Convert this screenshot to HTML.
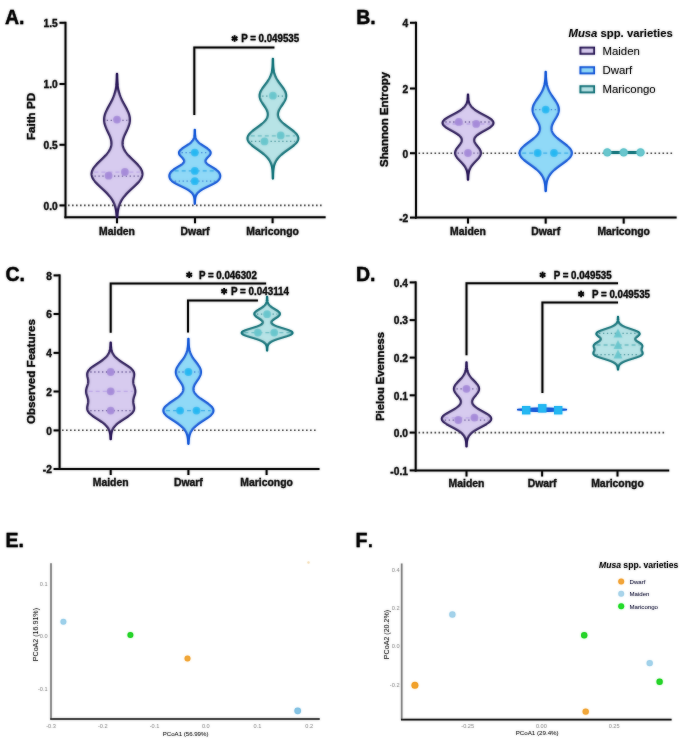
<!DOCTYPE html>
<html><head><meta charset="utf-8"><style>
html,body{margin:0;padding:0;background:#fff;}
body{width:685px;height:750px;position:relative;overflow:hidden;font-family:"Liberation Sans", sans-serif;}
</style></head><body>
<svg width="685" height="750" viewBox="0 0 685 750" style="position:absolute;left:0;top:0;will-change:transform">
<defs><filter id="bl" x="0" y="0" width="685" height="750" filterUnits="userSpaceOnUse"><feGaussianBlur stdDeviation="1.0"/></filter></defs>
<g id="content" font-family='"Liberation Sans", sans-serif'>
<text x="5.00" y="24.40" font-size="19.5" font-weight="bold" text-anchor="start" fill="#0a0a0a" stroke="#0a0a0a" stroke-width="0.3" >A.</text>
<line x1="65.5" y1="21.8" x2="65.5" y2="218.2" stroke="#111" stroke-width="2"/>
<line x1="64.5" y1="217.2" x2="325.6" y2="217.2" stroke="#111" stroke-width="2"/>
<line x1="59.5" y1="22.8" x2="65.5" y2="22.8" stroke="#111" stroke-width="2"/>
<text x="57.70" y="27.10" font-size="10.2" font-weight="bold" text-anchor="end" fill="#222" stroke="#222" stroke-width="0.3" >1.5</text>
<line x1="59.5" y1="84" x2="65.5" y2="84" stroke="#111" stroke-width="2"/>
<text x="57.70" y="88.30" font-size="10.2" font-weight="bold" text-anchor="end" fill="#222" stroke="#222" stroke-width="0.3" >1.0</text>
<line x1="59.5" y1="144.8" x2="65.5" y2="144.8" stroke="#111" stroke-width="2"/>
<text x="57.70" y="149.10" font-size="10.2" font-weight="bold" text-anchor="end" fill="#222" stroke="#222" stroke-width="0.3" >0.5</text>
<line x1="59.5" y1="205.4" x2="65.5" y2="205.4" stroke="#111" stroke-width="2"/>
<text x="57.70" y="209.70" font-size="10.2" font-weight="bold" text-anchor="end" fill="#222" stroke="#222" stroke-width="0.3" >0.0</text>
<line x1="117" y1="217.2" x2="117" y2="223.2" stroke="#111" stroke-width="2"/>
<text x="117.00" y="235.10" font-size="10.4" font-weight="bold" text-anchor="middle" fill="#222" stroke="#222" stroke-width="0.3" >Maiden</text>
<line x1="195" y1="217.2" x2="195" y2="223.2" stroke="#111" stroke-width="2"/>
<text x="195.00" y="235.10" font-size="10.4" font-weight="bold" text-anchor="middle" fill="#222" stroke="#222" stroke-width="0.3" >Dwarf</text>
<line x1="272.6" y1="217.2" x2="272.6" y2="223.2" stroke="#111" stroke-width="2"/>
<text x="272.60" y="235.10" font-size="10.4" font-weight="bold" text-anchor="middle" fill="#222" stroke="#222" stroke-width="0.3" >Maricongo</text>
<line x1="68" y1="205.4" x2="322" y2="205.4" stroke="#666" stroke-width="1.6" stroke-dasharray="1.6 2.4"/>
<text transform="translate(34.60,116.50) rotate(-90)" font-size="11.6" font-weight="bold" text-anchor="middle" fill="#1a1a1a" stroke="#1a1a1a" stroke-width="0.3">Faith PD</text>
<polygon points="117.06,73.90 117.07,74.40 117.08,74.90 117.09,75.40 117.10,75.90 117.11,76.40 117.12,76.90 117.14,77.40 117.15,77.90 117.17,78.40 117.19,78.90 117.21,79.40 117.23,79.90 117.25,80.40 117.28,80.90 117.31,81.40 117.34,81.90 117.37,82.40 117.41,82.90 117.45,83.40 117.49,83.90 117.54,84.40 117.59,84.90 117.65,85.40 117.70,85.90 117.77,86.40 117.83,86.90 117.91,87.40 117.98,87.90 118.07,88.40 118.15,88.90 118.25,89.40 118.34,89.90 118.45,90.40 118.56,90.90 118.68,91.40 118.80,91.90 118.93,92.40 119.07,92.90 119.22,93.40 119.37,93.90 119.53,94.40 119.69,94.90 119.87,95.40 120.05,95.90 120.23,96.40 120.43,96.90 120.63,97.40 120.84,97.90 121.06,98.40 121.28,98.90 121.51,99.40 121.74,99.90 121.98,100.40 122.23,100.90 122.48,101.40 122.74,101.90 123.00,102.40 123.27,102.90 123.53,103.40 123.81,103.90 124.08,104.40 124.35,104.90 124.63,105.40 124.91,105.90 125.18,106.40 125.46,106.90 125.73,107.40 126.00,107.90 126.27,108.40 126.53,108.90 126.79,109.40 127.04,109.90 127.29,110.40 127.52,110.90 127.75,111.40 127.97,111.90 128.18,112.40 128.38,112.90 128.57,113.40 128.75,113.90 128.92,114.40 129.07,114.90 129.21,115.40 129.33,115.90 129.44,116.40 129.54,116.90 129.62,117.40 129.68,117.90 129.73,118.40 129.76,118.90 129.78,119.40 129.78,119.90 129.76,120.40 129.73,120.90 129.68,121.40 129.62,121.90 129.54,122.40 129.45,122.90 129.34,123.40 129.22,123.90 129.09,124.40 128.94,124.90 128.78,125.40 128.61,125.90 128.43,126.40 128.24,126.90 128.04,127.40 127.83,127.90 127.62,128.40 127.39,128.90 127.17,129.40 126.94,129.90 126.70,130.40 126.46,130.90 126.22,131.40 125.98,131.90 125.74,132.40 125.50,132.90 125.27,133.40 125.04,133.90 124.81,134.40 124.58,134.90 124.37,135.40 124.16,135.90 123.96,136.40 123.77,136.90 123.59,137.40 123.42,137.90 123.26,138.40 123.11,138.90 122.98,139.40 122.86,139.90 122.75,140.40 122.67,140.90 122.59,141.40 122.54,141.90 122.50,142.40 122.47,142.90 122.47,143.40 122.48,143.90 122.52,144.40 122.57,144.90 122.64,145.40 122.74,145.90 122.85,146.40 122.98,146.90 123.13,147.40 123.31,147.90 123.50,148.40 123.72,148.90 123.95,149.40 124.20,149.90 124.48,150.40 124.77,150.90 125.09,151.40 125.42,151.90 125.77,152.40 126.14,152.90 126.52,153.40 126.92,153.90 127.34,154.40 127.77,154.90 128.22,155.40 128.68,155.90 129.15,156.40 129.63,156.90 130.12,157.40 130.63,157.90 131.13,158.40 131.65,158.90 132.16,159.40 132.69,159.90 133.21,160.40 133.73,160.90 134.25,161.40 134.77,161.90 135.28,162.40 135.79,162.90 136.29,163.40 136.78,163.90 137.25,164.40 137.72,164.90 138.17,165.40 138.60,165.90 139.02,166.40 139.41,166.90 139.79,167.40 140.15,167.90 140.48,168.40 140.78,168.90 141.07,169.40 141.32,169.90 141.55,170.40 141.74,170.90 141.91,171.40 142.05,171.90 142.16,172.40 142.24,172.90 142.29,173.40 142.30,173.90 142.28,174.40 142.24,174.90 142.16,175.40 142.04,175.90 141.90,176.40 141.73,176.90 141.53,177.40 141.30,177.90 141.04,178.40 140.76,178.90 140.45,179.40 140.11,179.90 139.75,180.40 139.37,180.90 138.97,181.40 138.55,181.90 138.11,182.40 137.65,182.90 137.18,183.40 136.69,183.90 136.19,184.40 135.68,184.90 135.16,185.40 134.64,185.90 134.10,186.40 133.57,186.90 133.03,187.40 132.48,187.90 131.94,188.40 131.40,188.90 130.86,189.40 130.32,189.90 129.79,190.40 129.27,190.90 128.75,191.40 128.24,191.90 127.73,192.40 127.24,192.90 126.76,193.40 126.29,193.90 125.83,194.40 125.38,194.90 124.95,195.40 124.53,195.90 124.12,196.40 123.72,196.90 123.34,197.40 122.98,197.90 122.63,198.40 122.29,198.90 121.96,199.40 121.65,199.90 121.36,200.40 121.07,200.90 120.81,201.40 120.55,201.90 120.31,202.40 120.08,202.90 119.86,203.40 119.65,203.90 119.46,204.40 119.28,204.90 119.11,205.40 118.95,205.90 118.79,206.40 118.65,206.90 118.52,207.40 118.40,207.90 118.28,208.40 118.18,208.90 118.08,209.40 117.98,209.90 117.90,210.40 117.82,210.90 117.75,211.40 117.68,211.90 117.62,212.40 117.56,212.90 117.51,213.40 117.46,213.90 117.42,214.40 117.38,214.90 117.34,215.40 117.30,215.90 117.27,216.40 117.25,216.90 116.75,216.90 116.73,216.40 116.70,215.90 116.66,215.40 116.62,214.90 116.58,214.40 116.54,213.90 116.49,213.40 116.44,212.90 116.38,212.40 116.32,211.90 116.25,211.40 116.18,210.90 116.10,210.40 116.02,209.90 115.92,209.40 115.82,208.90 115.72,208.40 115.60,207.90 115.48,207.40 115.35,206.90 115.21,206.40 115.05,205.90 114.89,205.40 114.72,204.90 114.54,204.40 114.35,203.90 114.14,203.40 113.92,202.90 113.69,202.40 113.45,201.90 113.19,201.40 112.93,200.90 112.64,200.40 112.35,199.90 112.04,199.40 111.71,198.90 111.37,198.40 111.02,197.90 110.66,197.40 110.28,196.90 109.88,196.40 109.47,195.90 109.05,195.40 108.62,194.90 108.17,194.40 107.71,193.90 107.24,193.40 106.76,192.90 106.27,192.40 105.76,191.90 105.25,191.40 104.73,190.90 104.21,190.40 103.68,189.90 103.14,189.40 102.60,188.90 102.06,188.40 101.52,187.90 100.97,187.40 100.43,186.90 99.90,186.40 99.36,185.90 98.84,185.40 98.32,184.90 97.81,184.40 97.31,183.90 96.82,183.40 96.35,182.90 95.89,182.40 95.45,181.90 95.03,181.40 94.63,180.90 94.25,180.40 93.89,179.90 93.55,179.40 93.24,178.90 92.96,178.40 92.70,177.90 92.47,177.40 92.27,176.90 92.10,176.40 91.96,175.90 91.84,175.40 91.76,174.90 91.72,174.40 91.70,173.90 91.71,173.40 91.76,172.90 91.84,172.40 91.95,171.90 92.09,171.40 92.26,170.90 92.45,170.40 92.68,169.90 92.93,169.40 93.22,168.90 93.52,168.40 93.85,167.90 94.21,167.40 94.59,166.90 94.98,166.40 95.40,165.90 95.83,165.40 96.28,164.90 96.75,164.40 97.22,163.90 97.71,163.40 98.21,162.90 98.72,162.40 99.23,161.90 99.75,161.40 100.27,160.90 100.79,160.40 101.31,159.90 101.84,159.40 102.35,158.90 102.87,158.40 103.37,157.90 103.88,157.40 104.37,156.90 104.85,156.40 105.32,155.90 105.78,155.40 106.23,154.90 106.66,154.40 107.08,153.90 107.48,153.40 107.86,152.90 108.23,152.40 108.58,151.90 108.91,151.40 109.23,150.90 109.52,150.40 109.80,149.90 110.05,149.40 110.28,148.90 110.50,148.40 110.69,147.90 110.87,147.40 111.02,146.90 111.15,146.40 111.26,145.90 111.36,145.40 111.43,144.90 111.48,144.40 111.52,143.90 111.53,143.40 111.53,142.90 111.50,142.40 111.46,141.90 111.41,141.40 111.33,140.90 111.25,140.40 111.14,139.90 111.02,139.40 110.89,138.90 110.74,138.40 110.58,137.90 110.41,137.40 110.23,136.90 110.04,136.40 109.84,135.90 109.63,135.40 109.42,134.90 109.19,134.40 108.96,133.90 108.73,133.40 108.50,132.90 108.26,132.40 108.02,131.90 107.78,131.40 107.54,130.90 107.30,130.40 107.06,129.90 106.83,129.40 106.61,128.90 106.38,128.40 106.17,127.90 105.96,127.40 105.76,126.90 105.57,126.40 105.39,125.90 105.22,125.40 105.06,124.90 104.91,124.40 104.78,123.90 104.66,123.40 104.55,122.90 104.46,122.40 104.38,121.90 104.32,121.40 104.27,120.90 104.24,120.40 104.22,119.90 104.22,119.40 104.24,118.90 104.27,118.40 104.32,117.90 104.38,117.40 104.46,116.90 104.56,116.40 104.67,115.90 104.79,115.40 104.93,114.90 105.08,114.40 105.25,113.90 105.43,113.40 105.62,112.90 105.82,112.40 106.03,111.90 106.25,111.40 106.48,110.90 106.71,110.40 106.96,109.90 107.21,109.40 107.47,108.90 107.73,108.40 108.00,107.90 108.27,107.40 108.54,106.90 108.82,106.40 109.09,105.90 109.37,105.40 109.65,104.90 109.92,104.40 110.19,103.90 110.47,103.40 110.73,102.90 111.00,102.40 111.26,101.90 111.52,101.40 111.77,100.90 112.02,100.40 112.26,99.90 112.49,99.40 112.72,98.90 112.94,98.40 113.16,97.90 113.37,97.40 113.57,96.90 113.77,96.40 113.95,95.90 114.13,95.40 114.31,94.90 114.47,94.40 114.63,93.90 114.78,93.40 114.93,92.90 115.07,92.40 115.20,91.90 115.32,91.40 115.44,90.90 115.55,90.40 115.66,89.90 115.75,89.40 115.85,88.90 115.93,88.40 116.02,87.90 116.09,87.40 116.17,86.90 116.23,86.40 116.30,85.90 116.35,85.40 116.41,84.90 116.46,84.40 116.51,83.90 116.55,83.40 116.59,82.90 116.63,82.40 116.66,81.90 116.69,81.40 116.72,80.90 116.75,80.40 116.77,79.90 116.79,79.40 116.81,78.90 116.83,78.40 116.85,77.90 116.86,77.40 116.88,76.90 116.89,76.40 116.90,75.90 116.91,75.40 116.92,74.90 116.93,74.40 116.94,73.90" fill="#d7cbef" stroke="#33215f" stroke-width="2.3" stroke-linejoin="round"/>
<line x1="106.74" y1="120.40" x2="127.26" y2="120.40" stroke="#4b3a7e" stroke-width="1.3" stroke-dasharray="1.3 2.6"/>
<line x1="94.38" y1="172.20" x2="139.62" y2="172.20" stroke="#b9a3e6" stroke-width="1.3" stroke-dasharray="4 3"/>
<line x1="94.54" y1="176.20" x2="139.46" y2="176.20" stroke="#4b3a7e" stroke-width="1.3" stroke-dasharray="1.3 2.6"/>
<circle cx="117.00" cy="119.60" r="3.9" fill="#a68bd9"/>
<circle cx="108.60" cy="175.70" r="3.9" fill="#a68bd9"/>
<circle cx="124.90" cy="172.00" r="3.9" fill="#a68bd9"/>
<polygon points="194.81,129.80 194.82,130.30 194.82,130.80 194.83,131.30 194.84,131.80 194.85,132.30 194.87,132.80 194.89,133.30 194.91,133.80 194.95,134.30 194.99,134.80 195.04,135.30 195.11,135.80 195.19,136.30 195.28,136.80 195.40,137.30 195.54,137.80 195.71,138.30 195.90,138.80 196.13,139.30 196.40,139.80 196.70,140.30 197.05,140.80 197.44,141.30 197.88,141.80 198.36,142.30 198.89,142.80 199.48,143.30 200.10,143.80 200.77,144.30 201.48,144.80 202.22,145.30 202.98,145.80 203.76,146.30 204.54,146.80 205.33,147.30 206.10,147.80 206.84,148.30 207.54,148.80 208.19,149.30 208.77,149.80 209.29,150.30 209.72,150.80 210.07,151.30 210.32,151.80 210.47,152.30 210.52,152.80 210.48,153.30 210.35,153.80 210.13,154.30 209.83,154.80 209.47,155.30 209.05,155.80 208.60,156.30 208.12,156.80 207.64,157.30 207.17,157.80 206.72,158.30 206.32,158.80 205.97,159.30 205.70,159.80 205.50,160.30 205.40,160.80 205.39,161.30 205.48,161.80 205.68,162.30 205.98,162.80 206.38,163.30 206.87,163.80 207.45,164.30 208.11,164.80 208.83,165.30 209.60,165.80 210.41,166.30 211.25,166.80 212.09,167.30 212.94,167.80 213.76,168.30 214.56,168.80 215.32,169.30 216.04,169.80 216.70,170.30 217.31,170.80 217.85,171.30 218.33,171.80 218.75,172.30 219.10,172.80 219.40,173.30 219.64,173.80 219.83,174.30 219.97,174.80 220.06,175.30 220.10,175.80 220.10,176.30 220.05,176.80 219.95,177.30 219.81,177.80 219.61,178.30 219.36,178.80 219.05,179.30 218.68,179.80 218.24,180.30 217.73,180.80 217.15,181.30 216.50,181.80 215.78,182.30 215.00,182.80 214.16,183.30 213.26,183.80 212.31,184.30 211.32,184.80 210.30,185.30 209.26,185.80 208.22,186.30 207.17,186.80 206.14,187.30 205.13,187.80 204.15,188.30 203.21,188.80 202.32,189.30 201.47,189.80 200.69,190.30 199.96,190.80 199.29,191.30 198.68,191.80 198.13,192.30 197.64,192.80 197.21,193.30 196.83,193.80 196.50,194.30 196.21,194.80 195.96,195.30 195.75,195.80 195.57,196.30 195.42,196.80 195.30,197.30 195.20,197.80 195.12,198.30 195.05,198.80 194.99,199.30 194.95,199.80 194.92,200.30 194.89,200.80 194.87,201.30 194.85,201.80 194.84,202.30 194.83,202.80 194.82,203.30 194.82,203.80 194.78,203.80 194.78,203.30 194.77,202.80 194.76,202.30 194.75,201.80 194.73,201.30 194.71,200.80 194.68,200.30 194.65,199.80 194.61,199.30 194.55,198.80 194.48,198.30 194.40,197.80 194.30,197.30 194.18,196.80 194.03,196.30 193.85,195.80 193.64,195.30 193.39,194.80 193.10,194.30 192.77,193.80 192.39,193.30 191.96,192.80 191.47,192.30 190.92,191.80 190.31,191.30 189.64,190.80 188.91,190.30 188.13,189.80 187.28,189.30 186.39,188.80 185.45,188.30 184.47,187.80 183.46,187.30 182.43,186.80 181.38,186.30 180.34,185.80 179.30,185.30 178.28,184.80 177.29,184.30 176.34,183.80 175.44,183.30 174.60,182.80 173.82,182.30 173.10,181.80 172.45,181.30 171.87,180.80 171.36,180.30 170.92,179.80 170.55,179.30 170.24,178.80 169.99,178.30 169.79,177.80 169.65,177.30 169.55,176.80 169.50,176.30 169.50,175.80 169.54,175.30 169.63,174.80 169.77,174.30 169.96,173.80 170.20,173.30 170.50,172.80 170.85,172.30 171.27,171.80 171.75,171.30 172.29,170.80 172.90,170.30 173.56,169.80 174.28,169.30 175.04,168.80 175.84,168.30 176.66,167.80 177.51,167.30 178.35,166.80 179.19,166.30 180.00,165.80 180.77,165.30 181.49,164.80 182.15,164.30 182.73,163.80 183.22,163.30 183.62,162.80 183.92,162.30 184.12,161.80 184.21,161.30 184.20,160.80 184.10,160.30 183.90,159.80 183.63,159.30 183.28,158.80 182.88,158.30 182.43,157.80 181.96,157.30 181.48,156.80 181.00,156.30 180.55,155.80 180.13,155.30 179.77,154.80 179.47,154.30 179.25,153.80 179.12,153.30 179.08,152.80 179.13,152.30 179.28,151.80 179.53,151.30 179.88,150.80 180.31,150.30 180.83,149.80 181.41,149.30 182.06,148.80 182.76,148.30 183.50,147.80 184.27,147.30 185.06,146.80 185.84,146.30 186.62,145.80 187.38,145.30 188.12,144.80 188.83,144.30 189.50,143.80 190.12,143.30 190.71,142.80 191.24,142.30 191.72,141.80 192.16,141.30 192.55,140.80 192.90,140.30 193.20,139.80 193.47,139.30 193.70,138.80 193.89,138.30 194.06,137.80 194.20,137.30 194.32,136.80 194.41,136.30 194.49,135.80 194.56,135.30 194.61,134.80 194.65,134.30 194.69,133.80 194.71,133.30 194.73,132.80 194.75,132.30 194.76,131.80 194.77,131.30 194.78,130.80 194.78,130.30 194.79,129.80" fill="#90d9f7" stroke="#1f5fd9" stroke-width="2.3" stroke-linejoin="round"/>
<line x1="181.60" y1="152.60" x2="208.00" y2="152.60" stroke="#2b6ccf" stroke-width="1.3" stroke-dasharray="1.3 2.6"/>
<line x1="174.69" y1="170.90" x2="214.91" y2="170.90" stroke="#2aa6e6" stroke-width="1.3" stroke-dasharray="4 3"/>
<line x1="174.83" y1="181.20" x2="214.77" y2="181.20" stroke="#2b6ccf" stroke-width="1.3" stroke-dasharray="1.3 2.6"/>
<circle cx="194.80" cy="152.60" r="3.9" fill="#25b8f2"/>
<circle cx="194.80" cy="170.90" r="3.9" fill="#25b8f2"/>
<circle cx="194.80" cy="181.20" r="3.9" fill="#25b8f2"/>
<polygon points="272.93,59.00 272.93,59.50 272.94,60.00 272.95,60.50 272.96,61.00 272.97,61.50 272.98,62.00 272.99,62.50 273.00,63.00 273.02,63.50 273.04,64.00 273.06,64.50 273.08,65.00 273.11,65.50 273.14,66.00 273.18,66.50 273.21,67.00 273.26,67.50 273.31,68.00 273.36,68.50 273.42,69.00 273.49,69.50 273.56,70.00 273.64,70.50 273.73,71.00 273.83,71.50 273.93,72.00 274.05,72.50 274.17,73.00 274.31,73.50 274.46,74.00 274.62,74.50 274.79,75.00 274.97,75.50 275.17,76.00 275.38,76.50 275.60,77.00 275.83,77.50 276.08,78.00 276.34,78.50 276.62,79.00 276.91,79.50 277.21,80.00 277.52,80.50 277.85,81.00 278.18,81.50 278.52,82.00 278.88,82.50 279.24,83.00 279.61,83.50 279.98,84.00 280.36,84.50 280.74,85.00 281.12,85.50 281.50,86.00 281.88,86.50 282.25,87.00 282.61,87.50 282.97,88.00 283.32,88.50 283.65,89.00 283.97,89.50 284.27,90.00 284.56,90.50 284.82,91.00 285.07,91.50 285.29,92.00 285.48,92.50 285.65,93.00 285.79,93.50 285.91,94.00 286.00,94.50 286.06,95.00 286.08,95.50 286.08,96.00 286.05,96.50 285.99,97.00 285.91,97.50 285.79,98.00 285.65,98.50 285.48,99.00 285.28,99.50 285.07,100.00 284.83,100.50 284.57,101.00 284.29,101.50 284.00,102.00 283.69,102.50 283.38,103.00 283.05,103.50 282.71,104.00 282.37,104.50 282.03,105.00 281.69,105.50 281.35,106.00 281.01,106.50 280.69,107.00 280.36,107.50 280.06,108.00 279.76,108.50 279.48,109.00 279.21,109.50 278.97,110.00 278.74,110.50 278.54,111.00 278.36,111.50 278.21,112.00 278.08,112.50 277.98,113.00 277.91,113.50 277.87,114.00 277.86,114.50 277.89,115.00 277.94,115.50 278.03,116.00 278.15,116.50 278.31,117.00 278.50,117.50 278.72,118.00 278.98,118.50 279.27,119.00 279.59,119.50 279.95,120.00 280.34,120.50 280.76,121.00 281.22,121.50 281.70,122.00 282.21,122.50 282.75,123.00 283.31,123.50 283.89,124.00 284.50,124.50 285.13,125.00 285.77,125.50 286.42,126.00 287.09,126.50 287.77,127.00 288.45,127.50 289.13,128.00 289.81,128.50 290.49,129.00 291.16,129.50 291.82,130.00 292.46,130.50 293.08,131.00 293.68,131.50 294.26,132.00 294.81,132.50 295.33,133.00 295.81,133.50 296.25,134.00 296.66,134.50 297.02,135.00 297.34,135.50 297.61,136.00 297.83,136.50 298.00,137.00 298.12,137.50 298.18,138.00 298.20,138.50 298.16,139.00 298.07,139.50 297.93,140.00 297.74,140.50 297.50,141.00 297.21,141.50 296.87,142.00 296.49,142.50 296.06,143.00 295.60,143.50 295.10,144.00 294.56,144.50 294.00,145.00 293.40,145.50 292.79,146.00 292.15,146.50 291.49,147.00 290.81,147.50 290.13,148.00 289.43,148.50 288.73,149.00 288.03,149.50 287.33,150.00 286.64,150.50 285.94,151.00 285.26,151.50 284.59,152.00 283.93,152.50 283.29,153.00 282.66,153.50 282.06,154.00 281.47,154.50 280.90,155.00 280.36,155.50 279.83,156.00 279.33,156.50 278.86,157.00 278.40,157.50 277.98,158.00 277.57,158.50 277.19,159.00 276.83,159.50 276.49,160.00 276.18,160.50 275.88,161.00 275.61,161.50 275.36,162.00 275.12,162.50 274.90,163.00 274.71,163.50 274.52,164.00 274.35,164.50 274.20,165.00 274.06,165.50 273.94,166.00 273.82,166.50 273.72,167.00 273.62,167.50 273.54,168.00 273.46,168.50 273.40,169.00 273.33,169.50 273.28,170.00 273.23,170.50 273.19,171.00 273.15,171.50 273.12,172.00 273.09,172.50 273.06,173.00 273.04,173.50 273.02,174.00 273.00,174.50 272.99,175.00 272.98,175.50 272.97,176.00 272.96,176.50 272.95,177.00 272.94,177.50 272.93,178.00 272.93,178.50 272.87,178.50 272.87,178.00 272.86,177.50 272.85,177.00 272.84,176.50 272.83,176.00 272.82,175.50 272.81,175.00 272.80,174.50 272.78,174.00 272.76,173.50 272.74,173.00 272.71,172.50 272.68,172.00 272.65,171.50 272.61,171.00 272.57,170.50 272.52,170.00 272.47,169.50 272.40,169.00 272.34,168.50 272.26,168.00 272.18,167.50 272.08,167.00 271.98,166.50 271.86,166.00 271.74,165.50 271.60,165.00 271.45,164.50 271.28,164.00 271.09,163.50 270.90,163.00 270.68,162.50 270.44,162.00 270.19,161.50 269.92,161.00 269.62,160.50 269.31,160.00 268.97,159.50 268.61,159.00 268.23,158.50 267.82,158.00 267.40,157.50 266.94,157.00 266.47,156.50 265.97,156.00 265.44,155.50 264.90,155.00 264.33,154.50 263.74,154.00 263.14,153.50 262.51,153.00 261.87,152.50 261.21,152.00 260.54,151.50 259.86,151.00 259.16,150.50 258.47,150.00 257.77,149.50 257.07,149.00 256.37,148.50 255.67,148.00 254.99,147.50 254.31,147.00 253.65,146.50 253.01,146.00 252.40,145.50 251.80,145.00 251.24,144.50 250.70,144.00 250.20,143.50 249.74,143.00 249.31,142.50 248.93,142.00 248.59,141.50 248.30,141.00 248.06,140.50 247.87,140.00 247.73,139.50 247.64,139.00 247.60,138.50 247.62,138.00 247.68,137.50 247.80,137.00 247.97,136.50 248.19,136.00 248.46,135.50 248.78,135.00 249.14,134.50 249.55,134.00 249.99,133.50 250.47,133.00 250.99,132.50 251.54,132.00 252.12,131.50 252.72,131.00 253.34,130.50 253.98,130.00 254.64,129.50 255.31,129.00 255.99,128.50 256.67,128.00 257.35,127.50 258.03,127.00 258.71,126.50 259.38,126.00 260.03,125.50 260.67,125.00 261.30,124.50 261.91,124.00 262.49,123.50 263.05,123.00 263.59,122.50 264.10,122.00 264.58,121.50 265.04,121.00 265.46,120.50 265.85,120.00 266.21,119.50 266.53,119.00 266.82,118.50 267.08,118.00 267.30,117.50 267.49,117.00 267.65,116.50 267.77,116.00 267.86,115.50 267.91,115.00 267.94,114.50 267.93,114.00 267.89,113.50 267.82,113.00 267.72,112.50 267.59,112.00 267.44,111.50 267.26,111.00 267.06,110.50 266.83,110.00 266.59,109.50 266.32,109.00 266.04,108.50 265.74,108.00 265.44,107.50 265.11,107.00 264.79,106.50 264.45,106.00 264.11,105.50 263.77,105.00 263.43,104.50 263.09,104.00 262.75,103.50 262.42,103.00 262.11,102.50 261.80,102.00 261.51,101.50 261.23,101.00 260.97,100.50 260.73,100.00 260.52,99.50 260.32,99.00 260.15,98.50 260.01,98.00 259.89,97.50 259.81,97.00 259.75,96.50 259.72,96.00 259.72,95.50 259.74,95.00 259.80,94.50 259.89,94.00 260.01,93.50 260.15,93.00 260.32,92.50 260.51,92.00 260.73,91.50 260.98,91.00 261.24,90.50 261.53,90.00 261.83,89.50 262.15,89.00 262.48,88.50 262.83,88.00 263.19,87.50 263.55,87.00 263.92,86.50 264.30,86.00 264.68,85.50 265.06,85.00 265.44,84.50 265.82,84.00 266.19,83.50 266.56,83.00 266.92,82.50 267.28,82.00 267.62,81.50 267.95,81.00 268.28,80.50 268.59,80.00 268.89,79.50 269.18,79.00 269.46,78.50 269.72,78.00 269.97,77.50 270.20,77.00 270.42,76.50 270.63,76.00 270.83,75.50 271.01,75.00 271.18,74.50 271.34,74.00 271.49,73.50 271.63,73.00 271.75,72.50 271.87,72.00 271.97,71.50 272.07,71.00 272.16,70.50 272.24,70.00 272.31,69.50 272.38,69.00 272.44,68.50 272.49,68.00 272.54,67.50 272.59,67.00 272.62,66.50 272.66,66.00 272.69,65.50 272.72,65.00 272.74,64.50 272.76,64.00 272.78,63.50 272.80,63.00 272.81,62.50 272.82,62.00 272.83,61.50 272.84,61.00 272.85,60.50 272.86,60.00 272.87,59.50 272.87,59.00" fill="#b7e3e6" stroke="#1d7a80" stroke-width="2.3" stroke-linejoin="round"/>
<line x1="262.23" y1="96.20" x2="283.57" y2="96.20" stroke="#2d8189" stroke-width="1.3" stroke-dasharray="1.3 2.6"/>
<line x1="250.80" y1="135.80" x2="295.00" y2="135.80" stroke="#5fb7bd" stroke-width="1.3" stroke-dasharray="4 3"/>
<line x1="251.04" y1="141.40" x2="294.76" y2="141.40" stroke="#2d8189" stroke-width="1.3" stroke-dasharray="1.3 2.6"/>
<circle cx="272.90" cy="95.70" r="3.9" fill="#69c6cd"/>
<circle cx="280.70" cy="135.40" r="3.9" fill="#69c6cd"/>
<circle cx="264.50" cy="141.40" r="3.9" fill="#69c6cd"/>
<polyline points="194.3,115 194.3,47.6 274.4,47.6" fill="none" stroke="#111" stroke-width="2"/>
<circle cx="234.60" cy="38.50" r="1.5" fill="#111"/>
<line x1="234.60" y1="35.30" x2="234.60" y2="41.70" stroke="#111" stroke-width="1.8" stroke-linecap="butt"/>
<line x1="231.83" y1="36.90" x2="237.37" y2="40.10" stroke="#111" stroke-width="1.8" stroke-linecap="butt"/>
<line x1="237.37" y1="36.90" x2="231.83" y2="40.10" stroke="#111" stroke-width="1.8" stroke-linecap="butt"/>
<text x="241.20" y="41.70" font-size="10.2" font-weight="bold" text-anchor="start" fill="#1a1a1a" stroke="#1a1a1a" stroke-width="0.3" textLength="58" lengthAdjust="spacingAndGlyphs">P = 0.049535</text>
<text x="356.20" y="24.20" font-size="19.5" font-weight="bold" text-anchor="start" fill="#0a0a0a" stroke="#0a0a0a" stroke-width="0.3" >B.</text>
<line x1="416" y1="21.8" x2="416" y2="218.6" stroke="#111" stroke-width="2"/>
<line x1="415" y1="217.6" x2="676.6" y2="217.6" stroke="#111" stroke-width="2"/>
<line x1="410" y1="22.8" x2="416" y2="22.8" stroke="#111" stroke-width="2"/>
<text x="408.20" y="27.10" font-size="10.2" font-weight="bold" text-anchor="end" fill="#222" stroke="#222" stroke-width="0.3" >4</text>
<line x1="410" y1="88.5" x2="416" y2="88.5" stroke="#111" stroke-width="2"/>
<text x="408.20" y="92.80" font-size="10.2" font-weight="bold" text-anchor="end" fill="#222" stroke="#222" stroke-width="0.3" >2</text>
<line x1="410" y1="153.2" x2="416" y2="153.2" stroke="#111" stroke-width="2"/>
<text x="408.20" y="157.50" font-size="10.2" font-weight="bold" text-anchor="end" fill="#222" stroke="#222" stroke-width="0.3" >0</text>
<line x1="410" y1="217.6" x2="416" y2="217.6" stroke="#111" stroke-width="2"/>
<text x="408.20" y="221.90" font-size="10.2" font-weight="bold" text-anchor="end" fill="#222" stroke="#222" stroke-width="0.3" >-2</text>
<line x1="468" y1="217.6" x2="468" y2="223.6" stroke="#111" stroke-width="2"/>
<text x="468.00" y="235.10" font-size="10.4" font-weight="bold" text-anchor="middle" fill="#222" stroke="#222" stroke-width="0.3" >Maiden</text>
<line x1="545.7" y1="217.6" x2="545.7" y2="223.6" stroke="#111" stroke-width="2"/>
<text x="545.70" y="235.10" font-size="10.4" font-weight="bold" text-anchor="middle" fill="#222" stroke="#222" stroke-width="0.3" >Dwarf</text>
<line x1="623.7" y1="217.6" x2="623.7" y2="223.6" stroke="#111" stroke-width="2"/>
<text x="623.70" y="235.10" font-size="10.4" font-weight="bold" text-anchor="middle" fill="#222" stroke="#222" stroke-width="0.3" >Maricongo</text>
<line x1="418.5" y1="153.2" x2="672.5" y2="153.2" stroke="#666" stroke-width="1.6" stroke-dasharray="1.6 2.4"/>
<text transform="translate(387.60,119.50) rotate(-90)" font-size="11.4" font-weight="bold" text-anchor="middle" fill="#1a1a1a" stroke="#1a1a1a" stroke-width="0.3">Shannon Entropy</text>
<polygon points="468.06,94.70 468.07,95.20 468.09,95.70 468.10,96.20 468.13,96.70 468.16,97.20 468.19,97.70 468.23,98.20 468.28,98.70 468.34,99.20 468.40,99.70 468.48,100.20 468.57,100.70 468.68,101.20 468.80,101.70 468.94,102.20 469.10,102.70 469.28,103.20 469.48,103.70 469.72,104.20 469.98,104.70 470.27,105.20 470.60,105.70 470.96,106.20 471.36,106.70 471.80,107.20 472.28,107.70 472.80,108.20 473.36,108.70 473.97,109.20 474.62,109.70 475.32,110.20 476.05,110.70 476.83,111.20 477.64,111.70 478.49,112.20 479.37,112.70 480.27,113.20 481.19,113.70 482.13,114.20 483.08,114.70 484.03,115.20 484.98,115.70 485.91,116.20 486.82,116.70 487.71,117.20 488.55,117.70 489.35,118.20 490.09,118.70 490.77,119.20 491.38,119.70 491.92,120.20 492.38,120.70 492.75,121.20 493.03,121.70 493.21,122.20 493.30,122.70 493.29,123.20 493.19,123.70 492.99,124.20 492.70,124.70 492.32,125.20 491.86,125.70 491.31,126.20 490.70,126.70 490.02,127.20 489.28,127.70 488.49,128.20 487.66,128.70 486.80,129.20 485.91,129.70 485.01,130.20 484.11,130.70 483.20,131.20 482.31,131.70 481.44,132.20 480.60,132.70 479.78,133.20 479.01,133.70 478.28,134.20 477.60,134.70 476.97,135.20 476.41,135.70 475.90,136.20 475.45,136.70 475.06,137.20 474.74,137.70 474.48,138.20 474.29,138.70 474.16,139.20 474.09,139.70 474.08,140.20 474.12,140.70 474.22,141.20 474.37,141.70 474.57,142.20 474.81,142.70 475.08,143.20 475.39,143.70 475.73,144.20 476.10,144.70 476.48,145.20 476.87,145.70 477.27,146.20 477.67,146.70 478.07,147.20 478.46,147.70 478.83,148.20 479.18,148.70 479.51,149.20 479.81,149.70 480.07,150.20 480.30,150.70 480.48,151.20 480.62,151.70 480.72,152.20 480.77,152.70 480.77,153.20 480.72,153.70 480.62,154.20 480.47,154.70 480.28,155.20 480.05,155.70 479.77,156.20 479.46,156.70 479.11,157.20 478.73,157.70 478.32,158.20 477.89,158.70 477.44,159.20 476.98,159.70 476.50,160.20 476.02,160.70 475.54,161.20 475.06,161.70 474.58,162.20 474.11,162.70 473.66,163.20 473.21,163.70 472.78,164.20 472.38,164.70 471.99,165.20 471.62,165.70 471.27,166.20 470.94,166.70 470.64,167.20 470.36,167.70 470.10,168.20 469.86,168.70 469.64,169.20 469.44,169.70 469.26,170.20 469.10,170.70 468.96,171.20 468.83,171.70 468.72,172.20 468.61,172.70 468.53,173.20 468.45,173.70 468.38,174.20 468.32,174.70 468.27,175.20 468.23,175.70 468.19,176.20 468.16,176.70 468.13,177.20 468.11,177.70 468.09,178.20 468.07,178.70 468.06,179.20 468.05,179.70 467.95,179.70 467.94,179.20 467.93,178.70 467.91,178.20 467.89,177.70 467.87,177.20 467.84,176.70 467.81,176.20 467.77,175.70 467.73,175.20 467.68,174.70 467.62,174.20 467.55,173.70 467.47,173.20 467.39,172.70 467.28,172.20 467.17,171.70 467.04,171.20 466.90,170.70 466.74,170.20 466.56,169.70 466.36,169.20 466.14,168.70 465.90,168.20 465.64,167.70 465.36,167.20 465.06,166.70 464.73,166.20 464.38,165.70 464.01,165.20 463.62,164.70 463.22,164.20 462.79,163.70 462.34,163.20 461.89,162.70 461.42,162.20 460.94,161.70 460.46,161.20 459.98,160.70 459.50,160.20 459.02,159.70 458.56,159.20 458.11,158.70 457.68,158.20 457.27,157.70 456.89,157.20 456.54,156.70 456.23,156.20 455.95,155.70 455.72,155.20 455.53,154.70 455.38,154.20 455.28,153.70 455.23,153.20 455.23,152.70 455.28,152.20 455.38,151.70 455.52,151.20 455.70,150.70 455.93,150.20 456.19,149.70 456.49,149.20 456.82,148.70 457.17,148.20 457.54,147.70 457.93,147.20 458.33,146.70 458.73,146.20 459.13,145.70 459.52,145.20 459.90,144.70 460.27,144.20 460.61,143.70 460.92,143.20 461.19,142.70 461.43,142.20 461.63,141.70 461.78,141.20 461.88,140.70 461.92,140.20 461.91,139.70 461.84,139.20 461.71,138.70 461.52,138.20 461.26,137.70 460.94,137.20 460.55,136.70 460.10,136.20 459.59,135.70 459.03,135.20 458.40,134.70 457.72,134.20 456.99,133.70 456.22,133.20 455.40,132.70 454.56,132.20 453.69,131.70 452.80,131.20 451.89,130.70 450.99,130.20 450.09,129.70 449.20,129.20 448.34,128.70 447.51,128.20 446.72,127.70 445.98,127.20 445.30,126.70 444.69,126.20 444.14,125.70 443.68,125.20 443.30,124.70 443.01,124.20 442.81,123.70 442.71,123.20 442.70,122.70 442.79,122.20 442.97,121.70 443.25,121.20 443.62,120.70 444.08,120.20 444.62,119.70 445.23,119.20 445.91,118.70 446.65,118.20 447.45,117.70 448.29,117.20 449.18,116.70 450.09,116.20 451.02,115.70 451.97,115.20 452.92,114.70 453.87,114.20 454.81,113.70 455.73,113.20 456.63,112.70 457.51,112.20 458.36,111.70 459.17,111.20 459.95,110.70 460.68,110.20 461.38,109.70 462.03,109.20 462.64,108.70 463.20,108.20 463.72,107.70 464.20,107.20 464.64,106.70 465.04,106.20 465.40,105.70 465.73,105.20 466.02,104.70 466.28,104.20 466.52,103.70 466.72,103.20 466.90,102.70 467.06,102.20 467.20,101.70 467.32,101.20 467.43,100.70 467.52,100.20 467.60,99.70 467.66,99.20 467.72,98.70 467.77,98.20 467.81,97.70 467.84,97.20 467.87,96.70 467.90,96.20 467.91,95.70 467.93,95.20 467.94,94.70" fill="#d7cbef" stroke="#33215f" stroke-width="2.3" stroke-linejoin="round"/>
<line x1="445.36" y1="122.00" x2="490.64" y2="122.00" stroke="#4b3a7e" stroke-width="1.3" stroke-dasharray="1.3 2.6"/>
<line x1="445.43" y1="124.00" x2="490.57" y2="124.00" stroke="#b9a3e6" stroke-width="1.3" stroke-dasharray="4 3"/>
<line x1="457.73" y1="153.20" x2="478.27" y2="153.20" stroke="#4b3a7e" stroke-width="1.3" stroke-dasharray="1.3 2.6"/>
<circle cx="458.80" cy="121.90" r="3.9" fill="#a68bd9"/>
<circle cx="476.20" cy="123.90" r="3.9" fill="#a68bd9"/>
<circle cx="468.00" cy="153.00" r="3.9" fill="#a68bd9"/>
<polygon points="545.75,72.00 545.76,72.50 545.77,73.00 545.78,73.50 545.79,74.00 545.80,74.50 545.82,75.00 545.84,75.50 545.86,76.00 545.88,76.50 545.90,77.00 545.93,77.50 545.96,78.00 545.99,78.50 546.03,79.00 546.07,79.50 546.12,80.00 546.17,80.50 546.23,81.00 546.29,81.50 546.36,82.00 546.43,82.50 546.51,83.00 546.60,83.50 546.70,84.00 546.80,84.50 546.92,85.00 547.04,85.50 547.17,86.00 547.31,86.50 547.46,87.00 547.62,87.50 547.79,88.00 547.97,88.50 548.17,89.00 548.37,89.50 548.59,90.00 548.81,90.50 549.05,91.00 549.30,91.50 549.56,92.00 549.84,92.50 550.12,93.00 550.41,93.50 550.71,94.00 551.02,94.50 551.34,95.00 551.67,95.50 552.00,96.00 552.34,96.50 552.68,97.00 553.03,97.50 553.37,98.00 553.72,98.50 554.07,99.00 554.42,99.50 554.76,100.00 555.10,100.50 555.43,101.00 555.75,101.50 556.07,102.00 556.37,102.50 556.66,103.00 556.94,103.50 557.20,104.00 557.44,104.50 557.67,105.00 557.87,105.50 558.06,106.00 558.22,106.50 558.36,107.00 558.48,107.50 558.58,108.00 558.65,108.50 558.69,109.00 558.71,109.50 558.71,110.00 558.68,110.50 558.62,111.00 558.54,111.50 558.44,112.00 558.32,112.50 558.17,113.00 558.00,113.50 557.81,114.00 557.61,114.50 557.38,115.00 557.15,115.50 556.89,116.00 556.63,116.50 556.35,117.00 556.07,117.50 555.77,118.00 555.48,118.50 555.18,119.00 554.87,119.50 554.57,120.00 554.28,120.50 553.98,121.00 553.70,121.50 553.42,122.00 553.15,122.50 552.90,123.00 552.66,123.50 552.44,124.00 552.23,124.50 552.04,125.00 551.87,125.50 551.73,126.00 551.61,126.50 551.51,127.00 551.44,127.50 551.40,128.00 551.39,128.50 551.40,129.00 551.45,129.50 551.52,130.00 551.63,130.50 551.77,131.00 551.94,131.50 552.14,132.00 552.38,132.50 552.65,133.00 552.95,133.50 553.29,134.00 553.65,134.50 554.05,135.00 554.47,135.50 554.93,136.00 555.41,136.50 555.93,137.00 556.46,137.50 557.02,138.00 557.60,138.50 558.21,139.00 558.82,139.50 559.46,140.00 560.11,140.50 560.76,141.00 561.43,141.50 562.10,142.00 562.77,142.50 563.44,143.00 564.10,143.50 564.75,144.00 565.40,144.50 566.03,145.00 566.64,145.50 567.23,146.00 567.79,146.50 568.33,147.00 568.84,147.50 569.31,148.00 569.75,148.50 570.14,149.00 570.50,149.50 570.81,150.00 571.08,150.50 571.30,151.00 571.48,151.50 571.60,152.00 571.68,152.50 571.70,153.00 571.67,153.50 571.60,154.00 571.47,154.50 571.29,155.00 571.07,155.50 570.79,156.00 570.48,156.50 570.12,157.00 569.71,157.50 569.27,158.00 568.79,158.50 568.28,159.00 567.73,159.50 567.15,160.00 566.55,160.50 565.93,161.00 565.29,161.50 564.63,162.00 563.95,162.50 563.27,163.00 562.58,163.50 561.88,164.00 561.19,164.50 560.49,165.00 559.80,165.50 559.11,166.00 558.43,166.50 557.76,167.00 557.11,167.50 556.47,168.00 555.85,168.50 555.24,169.00 554.65,169.50 554.08,170.00 553.53,170.50 553.01,171.00 552.50,171.50 552.02,172.00 551.56,172.50 551.13,173.00 550.71,173.50 550.32,174.00 549.95,174.50 549.61,175.00 549.28,175.50 548.98,176.00 548.69,176.50 548.42,177.00 548.18,177.50 547.95,178.00 547.74,178.50 547.54,179.00 547.36,179.50 547.20,180.00 547.05,180.50 546.91,181.00 546.78,181.50 546.67,182.00 546.56,182.50 546.47,183.00 546.38,183.50 546.30,184.00 546.23,184.50 546.17,185.00 546.12,185.50 546.07,186.00 546.02,186.50 545.98,187.00 545.95,187.50 545.91,188.00 545.89,188.50 545.86,189.00 545.84,189.50 545.82,190.00 545.81,190.50 545.79,191.00 545.61,191.00 545.59,190.50 545.58,190.00 545.56,189.50 545.54,189.00 545.51,188.50 545.49,188.00 545.45,187.50 545.42,187.00 545.38,186.50 545.33,186.00 545.28,185.50 545.23,185.00 545.17,184.50 545.10,184.00 545.02,183.50 544.93,183.00 544.84,182.50 544.73,182.00 544.62,181.50 544.49,181.00 544.35,180.50 544.20,180.00 544.04,179.50 543.86,179.00 543.66,178.50 543.45,178.00 543.22,177.50 542.98,177.00 542.71,176.50 542.42,176.00 542.12,175.50 541.79,175.00 541.45,174.50 541.08,174.00 540.69,173.50 540.27,173.00 539.84,172.50 539.38,172.00 538.90,171.50 538.39,171.00 537.87,170.50 537.32,170.00 536.75,169.50 536.16,169.00 535.55,168.50 534.93,168.00 534.29,167.50 533.64,167.00 532.97,166.50 532.29,166.00 531.60,165.50 530.91,165.00 530.21,164.50 529.52,164.00 528.82,163.50 528.13,163.00 527.45,162.50 526.77,162.00 526.11,161.50 525.47,161.00 524.85,160.50 524.25,160.00 523.67,159.50 523.12,159.00 522.61,158.50 522.13,158.00 521.69,157.50 521.28,157.00 520.92,156.50 520.61,156.00 520.33,155.50 520.11,155.00 519.93,154.50 519.80,154.00 519.73,153.50 519.70,153.00 519.72,152.50 519.80,152.00 519.92,151.50 520.10,151.00 520.32,150.50 520.59,150.00 520.90,149.50 521.26,149.00 521.65,148.50 522.09,148.00 522.56,147.50 523.07,147.00 523.61,146.50 524.17,146.00 524.76,145.50 525.37,145.00 526.00,144.50 526.65,144.00 527.30,143.50 527.96,143.00 528.63,142.50 529.30,142.00 529.97,141.50 530.64,141.00 531.29,140.50 531.94,140.00 532.58,139.50 533.19,139.00 533.80,138.50 534.38,138.00 534.94,137.50 535.47,137.00 535.99,136.50 536.47,136.00 536.93,135.50 537.35,135.00 537.75,134.50 538.11,134.00 538.45,133.50 538.75,133.00 539.02,132.50 539.26,132.00 539.46,131.50 539.63,131.00 539.77,130.50 539.88,130.00 539.95,129.50 540.00,129.00 540.01,128.50 540.00,128.00 539.96,127.50 539.89,127.00 539.79,126.50 539.67,126.00 539.53,125.50 539.36,125.00 539.17,124.50 538.96,124.00 538.74,123.50 538.50,123.00 538.25,122.50 537.98,122.00 537.70,121.50 537.42,121.00 537.12,120.50 536.83,120.00 536.53,119.50 536.22,119.00 535.92,118.50 535.63,118.00 535.33,117.50 535.05,117.00 534.77,116.50 534.51,116.00 534.25,115.50 534.02,115.00 533.79,114.50 533.59,114.00 533.40,113.50 533.23,113.00 533.08,112.50 532.96,112.00 532.86,111.50 532.78,111.00 532.72,110.50 532.69,110.00 532.69,109.50 532.71,109.00 532.75,108.50 532.82,108.00 532.92,107.50 533.04,107.00 533.18,106.50 533.34,106.00 533.53,105.50 533.73,105.00 533.96,104.50 534.20,104.00 534.46,103.50 534.74,103.00 535.03,102.50 535.33,102.00 535.65,101.50 535.97,101.00 536.30,100.50 536.64,100.00 536.98,99.50 537.33,99.00 537.68,98.50 538.03,98.00 538.37,97.50 538.72,97.00 539.06,96.50 539.40,96.00 539.73,95.50 540.06,95.00 540.38,94.50 540.69,94.00 540.99,93.50 541.28,93.00 541.56,92.50 541.84,92.00 542.10,91.50 542.35,91.00 542.59,90.50 542.81,90.00 543.03,89.50 543.23,89.00 543.43,88.50 543.61,88.00 543.78,87.50 543.94,87.00 544.09,86.50 544.23,86.00 544.36,85.50 544.48,85.00 544.60,84.50 544.70,84.00 544.80,83.50 544.89,83.00 544.97,82.50 545.04,82.00 545.11,81.50 545.17,81.00 545.23,80.50 545.28,80.00 545.33,79.50 545.37,79.00 545.41,78.50 545.44,78.00 545.47,77.50 545.50,77.00 545.52,76.50 545.54,76.00 545.56,75.50 545.58,75.00 545.60,74.50 545.61,74.00 545.62,73.50 545.63,73.00 545.64,72.50 545.65,72.00" fill="#90d9f7" stroke="#1f5fd9" stroke-width="2.3" stroke-linejoin="round"/>
<line x1="535.19" y1="109.60" x2="556.21" y2="109.60" stroke="#2b6ccf" stroke-width="1.3" stroke-dasharray="1.3 2.6"/>
<line x1="522.21" y1="153.20" x2="569.19" y2="153.20" stroke="#2aa6e6" stroke-width="1.3" stroke-dasharray="4 3"/>
<circle cx="545.70" cy="109.60" r="3.9" fill="#25b8f2"/>
<circle cx="537.70" cy="153.00" r="3.9" fill="#25b8f2"/>
<circle cx="554.00" cy="153.00" r="3.9" fill="#25b8f2"/>
<line x1="607.3" y1="152.4" x2="640.5" y2="152.4" stroke="#1d7a80" stroke-width="3"/>
<circle cx="607.30" cy="152.40" r="4.2" fill="#69c6cd"/>
<circle cx="623.70" cy="152.40" r="4.2" fill="#69c6cd"/>
<circle cx="640.50" cy="152.40" r="4.2" fill="#69c6cd"/>
<text x="568.5" y="37.2" font-size="11.3" font-weight="bold" fill="#1a1a1a"><tspan font-style="italic">Musa</tspan> spp. varieties</text>
<rect x="580.5" y="47.7" width="13.5" height="6" fill="#d7cbef" stroke="#33215f" stroke-width="2"/>
<text x="602.50" y="54.70" font-size="11.4" font-weight="normal" text-anchor="start" fill="#222" >Maiden</text>
<rect x="580.5" y="67.3" width="13.5" height="6" fill="#90d9f7" stroke="#1f5fd9" stroke-width="2"/>
<text x="602.50" y="74.30" font-size="11.4" font-weight="normal" text-anchor="start" fill="#222" >Dwarf</text>
<rect x="580.5" y="86.3" width="13.5" height="6" fill="#b7e3e6" stroke="#1d7a80" stroke-width="2"/>
<text x="602.50" y="93.30" font-size="11.4" font-weight="normal" text-anchor="start" fill="#222" >Maricongo</text>
<text x="5.40" y="281.00" font-size="19.5" font-weight="bold" text-anchor="start" fill="#0a0a0a" stroke="#0a0a0a" stroke-width="0.3" >C.</text>
<line x1="59.6" y1="274.4" x2="59.6" y2="470" stroke="#111" stroke-width="2"/>
<line x1="58.6" y1="469" x2="319.5" y2="469" stroke="#111" stroke-width="2"/>
<line x1="53.6" y1="275.4" x2="59.6" y2="275.4" stroke="#111" stroke-width="2"/>
<text x="51.80" y="279.70" font-size="10.2" font-weight="bold" text-anchor="end" fill="#222" stroke="#222" stroke-width="0.3" >8</text>
<line x1="53.6" y1="314" x2="59.6" y2="314" stroke="#111" stroke-width="2"/>
<text x="51.80" y="318.30" font-size="10.2" font-weight="bold" text-anchor="end" fill="#222" stroke="#222" stroke-width="0.3" >6</text>
<line x1="53.6" y1="352.9" x2="59.6" y2="352.9" stroke="#111" stroke-width="2"/>
<text x="51.80" y="357.20" font-size="10.2" font-weight="bold" text-anchor="end" fill="#222" stroke="#222" stroke-width="0.3" >4</text>
<line x1="53.6" y1="391.5" x2="59.6" y2="391.5" stroke="#111" stroke-width="2"/>
<text x="51.80" y="395.80" font-size="10.2" font-weight="bold" text-anchor="end" fill="#222" stroke="#222" stroke-width="0.3" >2</text>
<line x1="53.6" y1="430.4" x2="59.6" y2="430.4" stroke="#111" stroke-width="2"/>
<text x="51.80" y="434.70" font-size="10.2" font-weight="bold" text-anchor="end" fill="#222" stroke="#222" stroke-width="0.3" >0</text>
<line x1="53.6" y1="469" x2="59.6" y2="469" stroke="#111" stroke-width="2"/>
<text x="51.80" y="473.30" font-size="10.2" font-weight="bold" text-anchor="end" fill="#222" stroke="#222" stroke-width="0.3" >-2</text>
<line x1="110.7" y1="469" x2="110.7" y2="475" stroke="#111" stroke-width="2"/>
<text x="110.70" y="486.40" font-size="10.4" font-weight="bold" text-anchor="middle" fill="#222" stroke="#222" stroke-width="0.3" >Maiden</text>
<line x1="188.4" y1="469" x2="188.4" y2="475" stroke="#111" stroke-width="2"/>
<text x="188.40" y="486.40" font-size="10.4" font-weight="bold" text-anchor="middle" fill="#222" stroke="#222" stroke-width="0.3" >Dwarf</text>
<line x1="266.6" y1="469" x2="266.6" y2="475" stroke="#111" stroke-width="2"/>
<text x="266.60" y="486.40" font-size="10.4" font-weight="bold" text-anchor="middle" fill="#222" stroke="#222" stroke-width="0.3" >Maricongo</text>
<line x1="62" y1="430.3" x2="316" y2="430.3" stroke="#666" stroke-width="1.6" stroke-dasharray="1.6 2.4"/>
<text transform="translate(34.60,371.60) rotate(-90)" font-size="11.6" font-weight="bold" text-anchor="middle" fill="#1a1a1a" stroke="#1a1a1a" stroke-width="0.3">Observed Features</text>
<polygon points="110.76,342.70 110.77,343.20 110.78,343.70 110.80,344.20 110.82,344.70 110.85,345.20 110.88,345.70 110.91,346.20 110.95,346.70 111.00,347.20 111.06,347.70 111.12,348.20 111.20,348.70 111.28,349.20 111.38,349.70 111.49,350.20 111.62,350.70 111.77,351.20 111.93,351.70 112.11,352.20 112.32,352.70 112.54,353.20 112.80,353.70 113.08,354.20 113.38,354.70 113.72,355.20 114.09,355.70 114.48,356.20 114.91,356.70 115.38,357.20 115.87,357.70 116.40,358.20 116.97,358.70 117.56,359.20 118.19,359.70 118.84,360.20 119.52,360.70 120.23,361.20 120.96,361.70 121.70,362.20 122.46,362.70 123.24,363.20 124.01,363.70 124.79,364.20 125.57,364.70 126.34,365.20 127.09,365.70 127.82,366.20 128.54,366.70 129.22,367.20 129.87,367.70 130.48,368.20 131.05,368.70 131.57,369.20 132.05,369.70 132.48,370.20 132.85,370.70 133.18,371.20 133.45,371.70 133.67,372.20 133.84,372.70 133.96,373.20 134.04,373.70 134.08,374.20 134.09,374.70 134.06,375.20 134.00,375.70 133.92,376.20 133.83,376.70 133.72,377.20 133.61,377.70 133.50,378.20 133.40,378.70 133.30,379.20 133.22,379.70 133.16,380.20 133.12,380.70 133.09,381.20 133.10,381.70 133.13,382.20 133.18,382.70 133.25,383.20 133.35,383.70 133.47,384.20 133.61,384.70 133.76,385.20 133.91,385.70 134.08,386.20 134.25,386.70 134.41,387.20 134.57,387.70 134.72,388.20 134.85,388.70 134.97,389.20 135.06,389.70 135.14,390.20 135.18,390.70 135.20,391.20 135.19,391.70 135.16,392.20 135.10,392.70 135.01,393.20 134.90,393.70 134.78,394.20 134.63,394.70 134.48,395.20 134.32,395.70 134.15,396.20 133.98,396.70 133.82,397.20 133.66,397.70 133.52,398.20 133.40,398.70 133.29,399.20 133.21,399.70 133.14,400.20 133.11,400.70 133.09,401.20 133.10,401.70 133.14,402.20 133.19,402.70 133.27,403.20 133.36,403.70 133.46,404.20 133.57,404.70 133.68,405.20 133.79,405.70 133.89,406.20 133.97,406.70 134.04,407.20 134.08,407.70 134.09,408.20 134.06,408.70 134.00,409.20 133.90,409.70 133.74,410.20 133.54,410.70 133.29,411.20 132.99,411.70 132.63,412.20 132.22,412.70 131.77,413.20 131.26,413.70 130.71,414.20 130.12,414.70 129.48,415.20 128.81,415.70 128.11,416.20 127.39,416.70 126.64,417.20 125.88,417.70 125.10,418.20 124.33,418.70 123.55,419.20 122.77,419.70 122.01,420.20 121.25,420.70 120.52,421.20 119.80,421.70 119.11,422.20 118.45,422.70 117.81,423.20 117.20,423.70 116.63,424.20 116.08,424.70 115.57,425.20 115.10,425.70 114.65,426.20 114.24,426.70 113.86,427.20 113.51,427.70 113.20,428.20 112.90,428.70 112.64,429.20 112.40,429.70 112.19,430.20 112.00,430.70 111.83,431.20 111.68,431.70 111.54,432.20 111.42,432.70 111.32,433.20 111.23,433.70 111.15,434.20 111.08,434.70 111.02,435.20 110.97,435.70 110.93,436.20 110.89,436.70 110.86,437.20 110.83,437.70 110.81,438.20 110.79,438.70 110.77,439.20 110.63,439.20 110.61,438.70 110.59,438.20 110.57,437.70 110.54,437.20 110.51,436.70 110.47,436.20 110.43,435.70 110.38,435.20 110.32,434.70 110.25,434.20 110.17,433.70 110.08,433.20 109.98,432.70 109.86,432.20 109.72,431.70 109.57,431.20 109.40,430.70 109.21,430.20 109.00,429.70 108.76,429.20 108.50,428.70 108.20,428.20 107.89,427.70 107.54,427.20 107.16,426.70 106.75,426.20 106.30,425.70 105.83,425.20 105.32,424.70 104.77,424.20 104.20,423.70 103.59,423.20 102.95,422.70 102.29,422.20 101.60,421.70 100.88,421.20 100.15,420.70 99.39,420.20 98.63,419.70 97.85,419.20 97.07,418.70 96.30,418.20 95.52,417.70 94.76,417.20 94.01,416.70 93.29,416.20 92.59,415.70 91.92,415.20 91.28,414.70 90.69,414.20 90.14,413.70 89.63,413.20 89.18,412.70 88.77,412.20 88.41,411.70 88.11,411.20 87.86,410.70 87.66,410.20 87.50,409.70 87.40,409.20 87.34,408.70 87.31,408.20 87.32,407.70 87.36,407.20 87.43,406.70 87.51,406.20 87.61,405.70 87.72,405.20 87.83,404.70 87.94,404.20 88.04,403.70 88.13,403.20 88.21,402.70 88.26,402.20 88.30,401.70 88.31,401.20 88.29,400.70 88.26,400.20 88.19,399.70 88.11,399.20 88.00,398.70 87.88,398.20 87.74,397.70 87.58,397.20 87.42,396.70 87.25,396.20 87.08,395.70 86.92,395.20 86.77,394.70 86.62,394.20 86.50,393.70 86.39,393.20 86.30,392.70 86.24,392.20 86.21,391.70 86.20,391.20 86.22,390.70 86.26,390.20 86.34,389.70 86.43,389.20 86.55,388.70 86.68,388.20 86.83,387.70 86.99,387.20 87.15,386.70 87.32,386.20 87.49,385.70 87.64,385.20 87.79,384.70 87.93,384.20 88.05,383.70 88.15,383.20 88.22,382.70 88.27,382.20 88.30,381.70 88.31,381.20 88.28,380.70 88.24,380.20 88.18,379.70 88.10,379.20 88.00,378.70 87.90,378.20 87.79,377.70 87.68,377.20 87.57,376.70 87.48,376.20 87.40,375.70 87.34,375.20 87.31,374.70 87.32,374.20 87.36,373.70 87.44,373.20 87.56,372.70 87.73,372.20 87.95,371.70 88.22,371.20 88.55,370.70 88.92,370.20 89.35,369.70 89.83,369.20 90.35,368.70 90.92,368.20 91.53,367.70 92.18,367.20 92.86,366.70 93.58,366.20 94.31,365.70 95.06,365.20 95.83,364.70 96.61,364.20 97.39,363.70 98.16,363.20 98.94,362.70 99.70,362.20 100.44,361.70 101.17,361.20 101.88,360.70 102.56,360.20 103.21,359.70 103.84,359.20 104.43,358.70 105.00,358.20 105.53,357.70 106.02,357.20 106.49,356.70 106.92,356.20 107.31,355.70 107.68,355.20 108.02,354.70 108.32,354.20 108.60,353.70 108.86,353.20 109.08,352.70 109.29,352.20 109.47,351.70 109.63,351.20 109.78,350.70 109.91,350.20 110.02,349.70 110.12,349.20 110.20,348.70 110.28,348.20 110.34,347.70 110.40,347.20 110.45,346.70 110.49,346.20 110.52,345.70 110.55,345.20 110.58,344.70 110.60,344.20 110.62,343.70 110.63,343.20 110.64,342.70" fill="#d7cbef" stroke="#33215f" stroke-width="2.3" stroke-linejoin="round"/>
<line x1="90.32" y1="372.00" x2="131.08" y2="372.00" stroke="#4b3a7e" stroke-width="1.3" stroke-dasharray="1.3 2.6"/>
<line x1="88.70" y1="391.30" x2="132.70" y2="391.30" stroke="#b9a3e6" stroke-width="1.3" stroke-dasharray="4 3"/>
<line x1="90.32" y1="410.60" x2="131.08" y2="410.60" stroke="#4b3a7e" stroke-width="1.3" stroke-dasharray="1.3 2.6"/>
<circle cx="110.70" cy="372.00" r="3.9" fill="#a68bd9"/>
<circle cx="110.70" cy="391.30" r="3.9" fill="#a68bd9"/>
<circle cx="110.70" cy="410.60" r="3.9" fill="#a68bd9"/>
<polygon points="188.44,338.80 188.45,339.30 188.46,339.80 188.47,340.30 188.48,340.80 188.49,341.30 188.51,341.80 188.53,342.30 188.55,342.80 188.57,343.30 188.60,343.80 188.63,344.30 188.66,344.80 188.70,345.30 188.75,345.80 188.80,346.30 188.86,346.80 188.92,347.30 188.99,347.80 189.07,348.30 189.16,348.80 189.25,349.30 189.36,349.80 189.47,350.30 189.60,350.80 189.74,351.30 189.89,351.80 190.05,352.30 190.23,352.80 190.42,353.30 190.62,353.80 190.84,354.30 191.07,354.80 191.31,355.30 191.58,355.80 191.85,356.30 192.14,356.80 192.44,357.30 192.76,357.80 193.09,358.30 193.43,358.80 193.78,359.30 194.14,359.80 194.50,360.30 194.88,360.80 195.26,361.30 195.64,361.80 196.03,362.30 196.41,362.80 196.80,363.30 197.17,363.80 197.54,364.30 197.91,364.80 198.26,365.30 198.59,365.80 198.91,366.30 199.22,366.80 199.50,367.30 199.76,367.80 200.00,368.30 200.21,368.80 200.39,369.30 200.54,369.80 200.67,370.30 200.76,370.80 200.83,371.30 200.86,371.80 200.86,372.30 200.82,372.80 200.76,373.30 200.66,373.80 200.54,374.30 200.38,374.80 200.20,375.30 199.99,375.80 199.76,376.30 199.51,376.80 199.23,377.30 198.94,377.80 198.63,378.30 198.32,378.80 197.99,379.30 197.65,379.80 197.31,380.30 196.96,380.80 196.62,381.30 196.28,381.80 195.95,382.30 195.63,382.80 195.32,383.30 195.02,383.80 194.74,384.30 194.48,384.80 194.25,385.30 194.03,385.80 193.84,386.30 193.68,386.80 193.56,387.30 193.46,387.80 193.39,388.30 193.36,388.80 193.37,389.30 193.41,389.80 193.49,390.30 193.61,390.80 193.77,391.30 193.97,391.80 194.21,392.30 194.49,392.80 194.82,393.30 195.18,393.80 195.58,394.30 196.02,394.80 196.50,395.30 197.01,395.80 197.56,396.30 198.15,396.80 198.76,397.30 199.40,397.80 200.07,398.30 200.76,398.80 201.47,399.30 202.19,399.80 202.93,400.30 203.67,400.80 204.42,401.30 205.16,401.80 205.90,402.30 206.63,402.80 207.34,403.30 208.04,403.80 208.71,404.30 209.35,404.80 209.95,405.30 210.52,405.80 211.04,406.30 211.52,406.80 211.95,407.30 212.32,407.80 212.64,408.30 212.89,408.80 213.09,409.30 213.22,409.80 213.29,410.30 213.30,410.80 213.24,411.30 213.12,411.80 212.93,412.30 212.68,412.80 212.37,413.30 212.01,413.80 211.59,414.30 211.12,414.80 210.60,415.30 210.03,415.80 209.43,416.30 208.78,416.80 208.11,417.30 207.41,417.80 206.69,418.30 205.95,418.80 205.19,419.30 204.43,419.80 203.66,420.30 202.89,420.80 202.12,421.30 201.36,421.80 200.61,422.30 199.87,422.80 199.15,423.30 198.45,423.80 197.77,424.30 197.12,424.80 196.48,425.30 195.88,425.80 195.30,426.30 194.75,426.80 194.23,427.30 193.74,427.80 193.27,428.30 192.84,428.80 192.43,429.30 192.05,429.80 191.70,430.30 191.38,430.80 191.08,431.30 190.80,431.80 190.55,432.30 190.31,432.80 190.10,433.30 189.91,433.80 189.74,434.30 189.58,434.80 189.44,435.30 189.31,435.80 189.20,436.30 189.10,436.80 189.01,437.30 188.93,437.80 188.86,438.30 188.80,438.80 188.74,439.30 188.69,439.80 188.65,440.30 188.62,440.80 188.58,441.30 188.56,441.80 188.53,442.30 188.51,442.80 188.50,443.30 188.48,443.80 188.32,443.80 188.30,443.30 188.29,442.80 188.27,442.30 188.24,441.80 188.22,441.30 188.18,440.80 188.15,440.30 188.11,439.80 188.06,439.30 188.00,438.80 187.94,438.30 187.87,437.80 187.79,437.30 187.70,436.80 187.60,436.30 187.49,435.80 187.36,435.30 187.22,434.80 187.06,434.30 186.89,433.80 186.70,433.30 186.49,432.80 186.25,432.30 186.00,431.80 185.72,431.30 185.42,430.80 185.10,430.30 184.75,429.80 184.37,429.30 183.96,428.80 183.53,428.30 183.06,427.80 182.57,427.30 182.05,426.80 181.50,426.30 180.92,425.80 180.32,425.30 179.68,424.80 179.03,424.30 178.35,423.80 177.65,423.30 176.93,422.80 176.19,422.30 175.44,421.80 174.68,421.30 173.91,420.80 173.14,420.30 172.37,419.80 171.61,419.30 170.85,418.80 170.11,418.30 169.39,417.80 168.69,417.30 168.02,416.80 167.37,416.30 166.77,415.80 166.20,415.30 165.68,414.80 165.21,414.30 164.79,413.80 164.43,413.30 164.12,412.80 163.87,412.30 163.68,411.80 163.56,411.30 163.50,410.80 163.51,410.30 163.58,409.80 163.71,409.30 163.91,408.80 164.16,408.30 164.48,407.80 164.85,407.30 165.28,406.80 165.76,406.30 166.28,405.80 166.85,405.30 167.45,404.80 168.09,404.30 168.76,403.80 169.46,403.30 170.17,402.80 170.90,402.30 171.64,401.80 172.38,401.30 173.13,400.80 173.87,400.30 174.61,399.80 175.33,399.30 176.04,398.80 176.73,398.30 177.40,397.80 178.04,397.30 178.65,396.80 179.24,396.30 179.79,395.80 180.30,395.30 180.78,394.80 181.22,394.30 181.62,393.80 181.98,393.30 182.31,392.80 182.59,392.30 182.83,391.80 183.03,391.30 183.19,390.80 183.31,390.30 183.39,389.80 183.43,389.30 183.44,388.80 183.41,388.30 183.34,387.80 183.24,387.30 183.12,386.80 182.96,386.30 182.77,385.80 182.55,385.30 182.32,384.80 182.06,384.30 181.78,383.80 181.48,383.30 181.17,382.80 180.85,382.30 180.52,381.80 180.18,381.30 179.84,380.80 179.49,380.30 179.15,379.80 178.81,379.30 178.48,378.80 178.17,378.30 177.86,377.80 177.57,377.30 177.29,376.80 177.04,376.30 176.81,375.80 176.60,375.30 176.42,374.80 176.26,374.30 176.14,373.80 176.04,373.30 175.98,372.80 175.94,372.30 175.94,371.80 175.97,371.30 176.04,370.80 176.13,370.30 176.26,369.80 176.41,369.30 176.59,368.80 176.80,368.30 177.04,367.80 177.30,367.30 177.58,366.80 177.89,366.30 178.21,365.80 178.54,365.30 178.89,364.80 179.26,364.30 179.63,363.80 180.00,363.30 180.39,362.80 180.77,362.30 181.16,361.80 181.54,361.30 181.92,360.80 182.30,360.30 182.66,359.80 183.02,359.30 183.37,358.80 183.71,358.30 184.04,357.80 184.36,357.30 184.66,356.80 184.95,356.30 185.22,355.80 185.49,355.30 185.73,354.80 185.96,354.30 186.18,353.80 186.38,353.30 186.57,352.80 186.75,352.30 186.91,351.80 187.06,351.30 187.20,350.80 187.33,350.30 187.44,349.80 187.55,349.30 187.64,348.80 187.73,348.30 187.81,347.80 187.88,347.30 187.94,346.80 188.00,346.30 188.05,345.80 188.10,345.30 188.14,344.80 188.17,344.30 188.20,343.80 188.23,343.30 188.25,342.80 188.27,342.30 188.29,341.80 188.31,341.30 188.32,340.80 188.33,340.30 188.34,339.80 188.35,339.30 188.36,338.80" fill="#90d9f7" stroke="#1f5fd9" stroke-width="2.3" stroke-linejoin="round"/>
<line x1="178.44" y1="372.00" x2="198.36" y2="372.00" stroke="#2b6ccf" stroke-width="1.3" stroke-dasharray="1.3 2.6"/>
<line x1="166.00" y1="410.60" x2="210.80" y2="410.60" stroke="#2aa6e6" stroke-width="1.3" stroke-dasharray="4 3"/>
<circle cx="188.40" cy="372.00" r="3.9" fill="#25b8f2"/>
<circle cx="180.10" cy="410.60" r="3.9" fill="#25b8f2"/>
<circle cx="196.50" cy="410.60" r="3.9" fill="#25b8f2"/>
<polygon points="267.11,297.00 267.12,297.50 267.13,298.00 267.15,298.50 267.17,299.00 267.19,299.50 267.23,300.00 267.28,300.50 267.35,301.00 267.43,301.50 267.55,302.00 267.69,302.50 267.86,303.00 268.08,303.50 268.35,304.00 268.67,304.50 269.05,305.00 269.49,305.50 270.00,306.00 270.57,306.50 271.21,307.00 271.91,307.50 272.66,308.00 273.45,308.50 274.27,309.00 275.11,309.50 275.93,310.00 276.73,310.50 277.47,311.00 278.14,311.50 278.72,312.00 279.18,312.50 279.51,313.00 279.71,313.50 279.75,314.00 279.65,314.50 279.41,315.00 279.03,315.50 278.53,316.00 277.93,316.50 277.25,317.00 276.51,317.50 275.74,318.00 274.96,318.50 274.21,319.00 273.49,319.50 272.85,320.00 272.29,320.50 271.84,321.00 271.51,321.50 271.31,322.00 271.27,322.50 271.38,323.00 271.67,323.50 272.13,324.00 272.77,324.50 273.58,325.00 274.56,325.50 275.71,326.00 277.01,326.50 278.44,327.00 279.96,327.50 281.56,328.00 283.20,328.50 284.82,329.00 286.40,329.50 287.87,330.00 289.20,330.50 290.35,331.00 291.27,331.50 291.93,332.00 292.31,332.50 292.40,333.00 292.19,333.50 291.69,334.00 290.92,334.50 289.90,335.00 288.67,335.50 287.26,336.00 285.73,336.50 284.11,337.00 282.45,337.50 280.79,338.00 279.16,338.50 277.60,339.00 276.14,339.50 274.79,340.00 273.56,340.50 272.47,341.00 271.51,341.50 270.68,342.00 269.97,342.50 269.37,343.00 268.88,343.50 268.48,344.00 268.15,344.50 267.90,345.00 267.69,345.50 267.54,346.00 267.42,346.50 267.33,347.00 267.26,347.50 267.22,348.00 267.18,348.50 267.16,349.00 267.14,349.50 267.13,350.00 267.12,350.50 267.08,350.50 267.07,350.00 267.06,349.50 267.04,349.00 267.02,348.50 266.98,348.00 266.94,347.50 266.87,347.00 266.78,346.50 266.66,346.00 266.51,345.50 266.30,345.00 266.05,344.50 265.72,344.00 265.32,343.50 264.83,343.00 264.23,342.50 263.52,342.00 262.69,341.50 261.73,341.00 260.64,340.50 259.41,340.00 258.06,339.50 256.60,339.00 255.04,338.50 253.41,338.00 251.75,337.50 250.09,337.00 248.47,336.50 246.94,336.00 245.53,335.50 244.30,335.00 243.28,334.50 242.51,334.00 242.01,333.50 241.80,333.00 241.89,332.50 242.27,332.00 242.93,331.50 243.85,331.00 245.00,330.50 246.33,330.00 247.80,329.50 249.38,329.00 251.00,328.50 252.64,328.00 254.24,327.50 255.76,327.00 257.19,326.50 258.49,326.00 259.64,325.50 260.62,325.00 261.43,324.50 262.07,324.00 262.53,323.50 262.82,323.00 262.93,322.50 262.89,322.00 262.69,321.50 262.36,321.00 261.91,320.50 261.35,320.00 260.71,319.50 259.99,319.00 259.24,318.50 258.46,318.00 257.69,317.50 256.95,317.00 256.27,316.50 255.67,316.00 255.17,315.50 254.79,315.00 254.55,314.50 254.45,314.00 254.49,313.50 254.69,313.00 255.02,312.50 255.48,312.00 256.06,311.50 256.73,311.00 257.47,310.50 258.27,310.00 259.09,309.50 259.93,309.00 260.75,308.50 261.54,308.00 262.29,307.50 262.99,307.00 263.63,306.50 264.20,306.00 264.71,305.50 265.15,305.00 265.53,304.50 265.85,304.00 266.12,303.50 266.34,303.00 266.51,302.50 266.65,302.00 266.77,301.50 266.85,301.00 266.92,300.50 266.97,300.00 267.01,299.50 267.03,299.00 267.05,298.50 267.07,298.00 267.08,297.50 267.09,297.00" fill="#b7e3e6" stroke="#1d7a80" stroke-width="2.3" stroke-linejoin="round"/>
<line x1="256.99" y1="314.20" x2="277.21" y2="314.20" stroke="#2d8189" stroke-width="1.3" stroke-dasharray="1.3 2.6"/>
<line x1="244.37" y1="332.60" x2="289.83" y2="332.60" stroke="#5fb7bd" stroke-width="1.3" stroke-dasharray="4 3"/>
<circle cx="267.10" cy="314.20" r="3.9" fill="#69c6cd"/>
<circle cx="257.90" cy="332.60" r="3.9" fill="#69c6cd"/>
<circle cx="274.20" cy="332.60" r="3.9" fill="#69c6cd"/>
<polyline points="110.7,332.7 110.7,283.5 266.1,283.5" fill="none" stroke="#111" stroke-width="2"/>
<polyline points="188,332.6 188,300.5 257.9,300.5" fill="none" stroke="#111" stroke-width="2"/>
<circle cx="189.20" cy="274.80" r="1.5" fill="#111"/>
<line x1="189.20" y1="271.60" x2="189.20" y2="278.00" stroke="#111" stroke-width="1.8" stroke-linecap="butt"/>
<line x1="186.43" y1="273.20" x2="191.97" y2="276.40" stroke="#111" stroke-width="1.8" stroke-linecap="butt"/>
<line x1="191.97" y1="273.20" x2="186.43" y2="276.40" stroke="#111" stroke-width="1.8" stroke-linecap="butt"/>
<text x="198.90" y="278.90" font-size="10.2" font-weight="bold" text-anchor="start" fill="#1a1a1a" stroke="#1a1a1a" stroke-width="0.3" textLength="58" lengthAdjust="spacingAndGlyphs">P = 0.046302</text>
<circle cx="224.10" cy="291.20" r="1.5" fill="#111"/>
<line x1="224.10" y1="288.00" x2="224.10" y2="294.40" stroke="#111" stroke-width="1.8" stroke-linecap="butt"/>
<line x1="221.33" y1="289.60" x2="226.87" y2="292.80" stroke="#111" stroke-width="1.8" stroke-linecap="butt"/>
<line x1="226.87" y1="289.60" x2="221.33" y2="292.80" stroke="#111" stroke-width="1.8" stroke-linecap="butt"/>
<text x="231.00" y="294.80" font-size="10.2" font-weight="bold" text-anchor="start" fill="#1a1a1a" stroke="#1a1a1a" stroke-width="0.3" textLength="58" lengthAdjust="spacingAndGlyphs">P = 0.043114</text>
<text x="356.00" y="281.00" font-size="19.5" font-weight="bold" text-anchor="start" fill="#0a0a0a" stroke="#0a0a0a" stroke-width="0.3" >D.</text>
<line x1="415.7" y1="281.4" x2="415.7" y2="471.5" stroke="#111" stroke-width="2"/>
<line x1="414.7" y1="470.5" x2="669.2" y2="470.5" stroke="#111" stroke-width="2"/>
<line x1="409.7" y1="282.4" x2="415.7" y2="282.4" stroke="#111" stroke-width="2"/>
<text x="407.90" y="286.70" font-size="10.2" font-weight="bold" text-anchor="end" fill="#222" stroke="#222" stroke-width="0.3" >0.4</text>
<line x1="409.7" y1="320.1" x2="415.7" y2="320.1" stroke="#111" stroke-width="2"/>
<text x="407.90" y="324.40" font-size="10.2" font-weight="bold" text-anchor="end" fill="#222" stroke="#222" stroke-width="0.3" >0.3</text>
<line x1="409.7" y1="357.6" x2="415.7" y2="357.6" stroke="#111" stroke-width="2"/>
<text x="407.90" y="361.90" font-size="10.2" font-weight="bold" text-anchor="end" fill="#222" stroke="#222" stroke-width="0.3" >0.2</text>
<line x1="409.7" y1="395.3" x2="415.7" y2="395.3" stroke="#111" stroke-width="2"/>
<text x="407.90" y="399.60" font-size="10.2" font-weight="bold" text-anchor="end" fill="#222" stroke="#222" stroke-width="0.3" >0.1</text>
<line x1="409.7" y1="432.6" x2="415.7" y2="432.6" stroke="#111" stroke-width="2"/>
<text x="407.90" y="436.90" font-size="10.2" font-weight="bold" text-anchor="end" fill="#222" stroke="#222" stroke-width="0.3" >0.0</text>
<line x1="409.7" y1="470.4" x2="415.7" y2="470.4" stroke="#111" stroke-width="2"/>
<text x="407.90" y="474.70" font-size="10.2" font-weight="bold" text-anchor="end" fill="#222" stroke="#222" stroke-width="0.3" >-0.1</text>
<line x1="466.5" y1="470.5" x2="466.5" y2="476.5" stroke="#111" stroke-width="2"/>
<text x="466.50" y="487.30" font-size="10.4" font-weight="bold" text-anchor="middle" fill="#222" stroke="#222" stroke-width="0.3" >Maiden</text>
<line x1="542.1" y1="470.5" x2="542.1" y2="476.5" stroke="#111" stroke-width="2"/>
<text x="542.10" y="487.30" font-size="10.4" font-weight="bold" text-anchor="middle" fill="#222" stroke="#222" stroke-width="0.3" >Dwarf</text>
<line x1="617.5" y1="470.5" x2="617.5" y2="476.5" stroke="#111" stroke-width="2"/>
<text x="617.50" y="487.30" font-size="10.4" font-weight="bold" text-anchor="middle" fill="#222" stroke="#222" stroke-width="0.3" >Maricongo</text>
<line x1="418.5" y1="432.6" x2="666" y2="432.6" stroke="#666" stroke-width="1.6" stroke-dasharray="1.6 2.4"/>
<text transform="translate(384.40,376.40) rotate(-90)" font-size="11.2" font-weight="bold" text-anchor="middle" fill="#1a1a1a" stroke="#1a1a1a" stroke-width="0.3">Pielou Evenness</text>
<polygon points="466.54,362.40 466.55,362.90 466.56,363.40 466.58,363.90 466.59,364.40 466.61,364.90 466.64,365.40 466.67,365.90 466.70,366.40 466.74,366.90 466.79,367.40 466.84,367.90 466.91,368.40 466.98,368.90 467.06,369.40 467.16,369.90 467.27,370.40 467.39,370.90 467.53,371.40 467.69,371.90 467.86,372.40 468.06,372.90 468.27,373.40 468.51,373.90 468.76,374.40 469.04,374.90 469.34,375.40 469.67,375.90 470.02,376.40 470.39,376.90 470.78,377.40 471.19,377.90 471.62,378.40 472.06,378.90 472.52,379.40 472.99,379.90 473.47,380.40 473.95,380.90 474.43,381.40 474.91,381.90 475.39,382.40 475.85,382.90 476.29,383.40 476.72,383.90 477.12,384.40 477.48,384.90 477.82,385.40 478.12,385.90 478.37,386.40 478.59,386.90 478.75,387.40 478.87,387.90 478.94,388.40 478.96,388.90 478.93,389.40 478.85,389.90 478.72,390.40 478.55,390.90 478.33,391.40 478.07,391.90 477.78,392.40 477.45,392.90 477.10,393.40 476.72,393.90 476.32,394.40 475.92,394.90 475.50,395.40 475.09,395.90 474.68,396.40 474.28,396.90 473.90,397.40 473.54,397.90 473.21,398.40 472.90,398.90 472.64,399.40 472.42,399.90 472.24,400.40 472.11,400.90 472.04,401.40 472.02,401.90 472.06,402.40 472.16,402.90 472.32,403.40 472.55,403.90 472.84,404.40 473.19,404.90 473.61,405.40 474.09,405.90 474.64,406.40 475.24,406.90 475.89,407.40 476.60,407.90 477.35,408.40 478.15,408.90 478.98,409.40 479.85,409.90 480.73,410.40 481.63,410.90 482.54,411.40 483.44,411.90 484.33,412.40 485.21,412.90 486.05,413.40 486.86,413.90 487.61,414.40 488.32,414.90 488.95,415.40 489.52,415.90 490.01,416.40 490.41,416.90 490.73,417.40 490.95,417.90 491.07,418.40 491.10,418.90 491.03,419.40 490.86,419.90 490.60,420.40 490.24,420.90 489.80,421.40 489.27,421.90 488.67,422.40 487.99,422.90 487.25,423.40 486.46,423.90 485.62,424.40 484.75,424.90 483.84,425.40 482.91,425.90 481.97,426.40 481.03,426.90 480.09,427.40 479.15,427.90 478.24,428.40 477.35,428.90 476.48,429.40 475.65,429.90 474.85,430.40 474.10,430.90 473.38,431.40 472.70,431.90 472.07,432.40 471.49,432.90 470.94,433.40 470.44,433.90 469.99,434.40 469.57,434.90 469.19,435.40 468.85,435.90 468.55,436.40 468.27,436.90 468.03,437.40 467.81,437.90 467.63,438.40 467.46,438.90 467.31,439.40 467.19,439.90 467.08,440.40 466.99,440.90 466.91,441.40 466.84,441.90 466.78,442.40 466.73,442.90 466.69,443.40 466.66,443.90 466.63,444.40 466.60,444.90 466.58,445.40 466.57,445.90 466.55,446.40 466.45,446.40 466.43,445.90 466.42,445.40 466.40,444.90 466.37,444.40 466.34,443.90 466.31,443.40 466.27,442.90 466.22,442.40 466.16,441.90 466.09,441.40 466.01,440.90 465.92,440.40 465.81,439.90 465.69,439.40 465.54,438.90 465.37,438.40 465.19,437.90 464.97,437.40 464.73,436.90 464.45,436.40 464.15,435.90 463.81,435.40 463.43,434.90 463.01,434.40 462.56,433.90 462.06,433.40 461.51,432.90 460.93,432.40 460.30,431.90 459.62,431.40 458.90,430.90 458.15,430.40 457.35,429.90 456.52,429.40 455.65,428.90 454.76,428.40 453.85,427.90 452.91,427.40 451.97,426.90 451.03,426.40 450.09,425.90 449.16,425.40 448.25,424.90 447.38,424.40 446.54,423.90 445.75,423.40 445.01,422.90 444.33,422.40 443.73,421.90 443.20,421.40 442.76,420.90 442.40,420.40 442.14,419.90 441.97,419.40 441.90,418.90 441.93,418.40 442.05,417.90 442.27,417.40 442.59,416.90 442.99,416.40 443.48,415.90 444.05,415.40 444.68,414.90 445.39,414.40 446.14,413.90 446.95,413.40 447.79,412.90 448.67,412.40 449.56,411.90 450.46,411.40 451.37,410.90 452.27,410.40 453.15,409.90 454.02,409.40 454.85,408.90 455.65,408.40 456.40,407.90 457.11,407.40 457.76,406.90 458.36,406.40 458.91,405.90 459.39,405.40 459.81,404.90 460.16,404.40 460.45,403.90 460.68,403.40 460.84,402.90 460.94,402.40 460.98,401.90 460.96,401.40 460.89,400.90 460.76,400.40 460.58,399.90 460.36,399.40 460.10,398.90 459.79,398.40 459.46,397.90 459.10,397.40 458.72,396.90 458.32,396.40 457.91,395.90 457.50,395.40 457.08,394.90 456.68,394.40 456.28,393.90 455.90,393.40 455.55,392.90 455.22,392.40 454.93,391.90 454.67,391.40 454.45,390.90 454.28,390.40 454.15,389.90 454.07,389.40 454.04,388.90 454.06,388.40 454.13,387.90 454.25,387.40 454.41,386.90 454.63,386.40 454.88,385.90 455.18,385.40 455.52,384.90 455.88,384.40 456.28,383.90 456.71,383.40 457.15,382.90 457.61,382.40 458.09,381.90 458.57,381.40 459.05,380.90 459.53,380.40 460.01,379.90 460.48,379.40 460.94,378.90 461.38,378.40 461.81,377.90 462.22,377.40 462.61,376.90 462.98,376.40 463.33,375.90 463.66,375.40 463.96,374.90 464.24,374.40 464.49,373.90 464.73,373.40 464.94,372.90 465.14,372.40 465.31,371.90 465.47,371.40 465.61,370.90 465.73,370.40 465.84,369.90 465.94,369.40 466.02,368.90 466.09,368.40 466.16,367.90 466.21,367.40 466.26,366.90 466.30,366.40 466.33,365.90 466.36,365.40 466.39,364.90 466.41,364.40 466.42,363.90 466.44,363.40 466.45,362.90 466.46,362.40" fill="#d7cbef" stroke="#33215f" stroke-width="2.3" stroke-linejoin="round"/>
<line x1="456.54" y1="388.80" x2="476.46" y2="388.80" stroke="#4b3a7e" stroke-width="1.3" stroke-dasharray="1.3 2.6"/>
<line x1="444.60" y1="417.80" x2="488.40" y2="417.80" stroke="#b9a3e6" stroke-width="1.3" stroke-dasharray="4 3"/>
<line x1="444.80" y1="420.20" x2="488.20" y2="420.20" stroke="#4b3a7e" stroke-width="1.3" stroke-dasharray="1.3 2.6"/>
<circle cx="466.50" cy="388.80" r="3.9" fill="#a68bd9"/>
<circle cx="458.30" cy="420.00" r="3.9" fill="#a68bd9"/>
<circle cx="474.40" cy="417.60" r="3.9" fill="#a68bd9"/>
<path d="M517.8,409.7 Q542,406.3 566.3,409.7 Q542,413.1 517.8,409.7 Z" fill="#1f5fd9" stroke="#1f5fd9" stroke-width="1.7" stroke-linejoin="round"/>
<rect x="522.0" y="406.0" width="8.4" height="8.4" fill="#25b8f2"/>
<rect x="538.0999999999999" y="404.1" width="8.4" height="8.4" fill="#25b8f2"/>
<rect x="554.0" y="406.0" width="8.4" height="8.4" fill="#25b8f2"/>
<polygon points="618.01,317.00 618.02,317.50 618.03,318.00 618.05,318.50 618.08,319.00 618.11,319.50 618.16,320.00 618.23,320.50 618.33,321.00 618.45,321.50 618.62,322.00 618.84,322.50 619.12,323.00 619.47,323.50 619.91,324.00 620.45,324.50 621.10,325.00 621.86,325.50 622.75,326.00 623.76,326.50 624.90,327.00 626.15,327.50 627.50,328.00 628.92,328.50 630.39,329.00 631.87,329.50 633.32,330.00 634.70,330.50 635.97,331.00 637.09,331.50 638.02,332.00 638.73,332.50 639.22,333.00 639.47,333.50 639.49,334.00 639.29,334.50 638.92,335.00 638.40,335.50 637.79,336.00 637.15,336.50 636.52,337.00 635.96,337.50 635.51,338.00 635.21,338.50 635.10,339.00 635.17,339.50 635.44,340.00 635.89,340.50 636.49,341.00 637.20,341.50 638.00,342.00 638.82,342.50 639.62,343.00 640.36,343.50 641.01,344.00 641.52,344.50 641.90,345.00 642.13,345.50 642.23,346.00 642.21,346.50 642.10,347.00 641.94,347.50 641.76,348.00 641.60,348.50 641.48,349.00 641.43,349.50 641.46,350.00 641.57,350.50 641.74,351.00 641.96,351.50 642.18,352.00 642.37,352.50 642.49,353.00 642.50,353.50 642.36,354.00 642.03,354.50 641.51,355.00 640.77,355.50 639.84,356.00 638.70,356.50 637.40,357.00 635.97,357.50 634.44,358.00 632.85,358.50 631.24,359.00 629.65,359.50 628.12,360.00 626.68,360.50 625.34,361.00 624.13,361.50 623.05,362.00 622.10,362.50 621.29,363.00 620.60,363.50 620.03,364.00 619.57,364.50 619.19,365.00 618.89,365.50 618.66,366.00 618.48,366.50 618.35,367.00 618.25,367.50 618.17,368.00 618.12,368.50 618.08,369.00 618.05,369.50 617.95,369.50 617.92,369.00 617.88,368.50 617.83,368.00 617.75,367.50 617.65,367.00 617.52,366.50 617.34,366.00 617.11,365.50 616.81,365.00 616.43,364.50 615.97,364.00 615.40,363.50 614.71,363.00 613.90,362.50 612.95,362.00 611.87,361.50 610.66,361.00 609.32,360.50 607.88,360.00 606.35,359.50 604.76,359.00 603.15,358.50 601.56,358.00 600.03,357.50 598.60,357.00 597.30,356.50 596.16,356.00 595.23,355.50 594.49,355.00 593.97,354.50 593.64,354.00 593.50,353.50 593.51,353.00 593.63,352.50 593.82,352.00 594.04,351.50 594.26,351.00 594.43,350.50 594.54,350.00 594.57,349.50 594.52,349.00 594.40,348.50 594.24,348.00 594.06,347.50 593.90,347.00 593.79,346.50 593.77,346.00 593.87,345.50 594.10,345.00 594.48,344.50 594.99,344.00 595.64,343.50 596.38,343.00 597.18,342.50 598.00,342.00 598.80,341.50 599.51,341.00 600.11,340.50 600.56,340.00 600.83,339.50 600.90,339.00 600.79,338.50 600.49,338.00 600.04,337.50 599.48,337.00 598.85,336.50 598.21,336.00 597.60,335.50 597.08,335.00 596.71,334.50 596.51,334.00 596.53,333.50 596.78,333.00 597.27,332.50 597.98,332.00 598.91,331.50 600.03,331.00 601.30,330.50 602.68,330.00 604.13,329.50 605.61,329.00 607.08,328.50 608.50,328.00 609.85,327.50 611.10,327.00 612.24,326.50 613.25,326.00 614.14,325.50 614.90,325.00 615.55,324.50 616.09,324.00 616.53,323.50 616.88,323.00 617.16,322.50 617.38,322.00 617.55,321.50 617.67,321.00 617.77,320.50 617.84,320.00 617.89,319.50 617.92,319.00 617.95,318.50 617.97,318.00 617.98,317.50 617.99,317.00" fill="#b7e3e6" stroke="#1d7a80" stroke-width="2.3" stroke-linejoin="round"/>
<line x1="599.08" y1="333.40" x2="636.92" y2="333.40" stroke="#2d8189" stroke-width="1.3" stroke-dasharray="1.3 2.6"/>
<line x1="596.60" y1="345.00" x2="639.40" y2="345.00" stroke="#5fb7bd" stroke-width="1.3" stroke-dasharray="4 3"/>
<line x1="596.57" y1="354.60" x2="639.43" y2="354.60" stroke="#2d8189" stroke-width="1.3" stroke-dasharray="1.3 2.6"/>
<polygon points="618,328.4 622.5,337.4 613.5,337.4" fill="#69c6cd"/>
<polygon points="618,340.0 622.5,349.0 613.5,349.0" fill="#69c6cd"/>
<polygon points="618,349.6 622.5,358.6 613.5,358.6" fill="#69c6cd"/>
<polyline points="466.5,355.2 466.5,283.2 618,283.2" fill="none" stroke="#111" stroke-width="2"/>
<polyline points="542.4,392.9 542.4,302.4 618,302.4" fill="none" stroke="#111" stroke-width="2"/>
<circle cx="542.60" cy="274.90" r="1.5" fill="#111"/>
<line x1="542.60" y1="271.70" x2="542.60" y2="278.10" stroke="#111" stroke-width="1.8" stroke-linecap="butt"/>
<line x1="539.83" y1="273.30" x2="545.37" y2="276.50" stroke="#111" stroke-width="1.8" stroke-linecap="butt"/>
<line x1="545.37" y1="273.30" x2="539.83" y2="276.50" stroke="#111" stroke-width="1.8" stroke-linecap="butt"/>
<text x="553.70" y="278.60" font-size="10.2" font-weight="bold" text-anchor="start" fill="#1a1a1a" stroke="#1a1a1a" stroke-width="0.3" textLength="58" lengthAdjust="spacingAndGlyphs">P = 0.049535</text>
<circle cx="581.10" cy="294.00" r="1.5" fill="#111"/>
<line x1="581.10" y1="290.80" x2="581.10" y2="297.20" stroke="#111" stroke-width="1.8" stroke-linecap="butt"/>
<line x1="578.33" y1="292.40" x2="583.87" y2="295.60" stroke="#111" stroke-width="1.8" stroke-linecap="butt"/>
<line x1="583.87" y1="292.40" x2="578.33" y2="295.60" stroke="#111" stroke-width="1.8" stroke-linecap="butt"/>
<text x="592.00" y="298.20" font-size="10.2" font-weight="bold" text-anchor="start" fill="#1a1a1a" stroke="#1a1a1a" stroke-width="0.3" textLength="58" lengthAdjust="spacingAndGlyphs">P = 0.049535</text>
<text x="5.50" y="546.70" font-size="19.5" font-weight="bold" text-anchor="start" fill="#0a0a0a" stroke="#0a0a0a" stroke-width="0.3" >E.</text>
<line x1="51" y1="563.2" x2="51" y2="719.5" stroke="#8a8a8a" stroke-width="1.7"/>
<line x1="50.3" y1="719" x2="319.7" y2="719" stroke="#222" stroke-width="1.6"/>
<text x="47.60" y="585.60" font-size="5.6" font-weight="normal" text-anchor="end" fill="#a0a0a0" >0.1</text>
<text x="47.60" y="638.20" font-size="5.6" font-weight="normal" text-anchor="end" fill="#a0a0a0" >0.0</text>
<text x="47.60" y="690.70" font-size="5.6" font-weight="normal" text-anchor="end" fill="#a0a0a0" >-0.1</text>
<text x="51.00" y="727.80" font-size="5.6" font-weight="normal" text-anchor="middle" fill="#a0a0a0" >-0.3</text>
<text x="102.80" y="727.80" font-size="5.6" font-weight="normal" text-anchor="middle" fill="#a0a0a0" >-0.2</text>
<text x="154.50" y="727.80" font-size="5.6" font-weight="normal" text-anchor="middle" fill="#a0a0a0" >-0.1</text>
<text x="205.80" y="727.80" font-size="5.6" font-weight="normal" text-anchor="middle" fill="#a0a0a0" >0.0</text>
<text x="257.50" y="727.80" font-size="5.6" font-weight="normal" text-anchor="middle" fill="#a0a0a0" >0.1</text>
<text x="309.20" y="727.80" font-size="5.6" font-weight="normal" text-anchor="middle" fill="#a0a0a0" >0.2</text>
<text x="185.60" y="735.50" font-size="6.1" font-weight="normal" text-anchor="middle" fill="#333" >PCoA1 (56.99%)</text>
<text transform="translate(37.60,634.60) rotate(-90)" font-size="7.1" font-weight="normal" text-anchor="middle" fill="#333">PCoA2 (16.91%)</text>
<circle cx="63.40" cy="621.70" r="3" fill="#9dd0ea"/>
<circle cx="130.40" cy="634.90" r="3" fill="#27d42a"/>
<circle cx="187.50" cy="658.50" r="3" fill="#f1a73a"/>
<circle cx="297.70" cy="710.80" r="3.4" fill="#86c3e3"/>
<circle cx="308.50" cy="562.50" r="1.2" fill="#f6e3c0"/>
<text x="355.50" y="546.70" font-size="19.5" font-weight="bold" text-anchor="start" fill="#0a0a0a" stroke="#0a0a0a" stroke-width="0.3" >F<tspan dx="0.7" font-size="17">.</tspan></text>
<line x1="401.7" y1="563.5" x2="401.7" y2="720" stroke="#8a8a8a" stroke-width="1.7"/>
<line x1="401" y1="719.6" x2="671.6" y2="719.6" stroke="#222" stroke-width="1.6"/>
<text x="399.50" y="571.90" font-size="5.6" font-weight="normal" text-anchor="end" fill="#a0a0a0" >0.4</text>
<text x="399.50" y="609.50" font-size="5.6" font-weight="normal" text-anchor="end" fill="#a0a0a0" >0.2</text>
<text x="399.50" y="648.20" font-size="5.6" font-weight="normal" text-anchor="end" fill="#a0a0a0" >0.0</text>
<text x="399.50" y="687.30" font-size="5.6" font-weight="normal" text-anchor="end" fill="#a0a0a0" >-0.2</text>
<text x="467.70" y="727.80" font-size="5.6" font-weight="normal" text-anchor="middle" fill="#a0a0a0" >-0.25</text>
<text x="541.40" y="727.80" font-size="5.6" font-weight="normal" text-anchor="middle" fill="#a0a0a0" >0.00</text>
<text x="614.10" y="727.80" font-size="5.6" font-weight="normal" text-anchor="middle" fill="#a0a0a0" >0.25</text>
<text x="537.20" y="734.80" font-size="6.2" font-weight="normal" text-anchor="middle" fill="#333" >PCoA1 (29.4%)</text>
<text transform="translate(388.60,634.50) rotate(-90)" font-size="7.1" font-weight="normal" text-anchor="middle" fill="#333">PCoA2 (20.2%)</text>
<circle cx="452.40" cy="614.50" r="3.2" fill="#a3d2ea"/>
<circle cx="414.90" cy="685.30" r="3.5" fill="#f1a12a"/>
<circle cx="584.20" cy="635.30" r="3.2" fill="#27d42a"/>
<circle cx="649.70" cy="663.10" r="3.2" fill="#a3d2ea"/>
<circle cx="659.60" cy="681.70" r="3.2" fill="#27d42a"/>
<circle cx="585.70" cy="711.60" r="3.2" fill="#f1a73a"/>
<text x="599" y="567.6" font-size="8.6" font-weight="bold" fill="#1a1a1a"><tspan font-style="italic">Musa</tspan> spp. varieties</text>
<circle cx="621.20" cy="581.40" r="3" fill="#f2a53a"/>
<text x="629.50" y="583.60" font-size="6.1" font-weight="normal" text-anchor="start" fill="#2b2b4a" >Dwarf</text>
<circle cx="621.20" cy="593.80" r="3" fill="#a9d4ea"/>
<text x="629.50" y="596.00" font-size="6.1" font-weight="normal" text-anchor="start" fill="#2b2b4a" >Maiden</text>
<circle cx="621.20" cy="606.30" r="3" fill="#25dc2c"/>
<text x="629.50" y="608.50" font-size="6.1" font-weight="normal" text-anchor="start" fill="#2b2b4a" >Maricongo</text>
</g>
<use href="#content" filter="url(#bl)" opacity="0.5"/>
</svg>
</body></html>
